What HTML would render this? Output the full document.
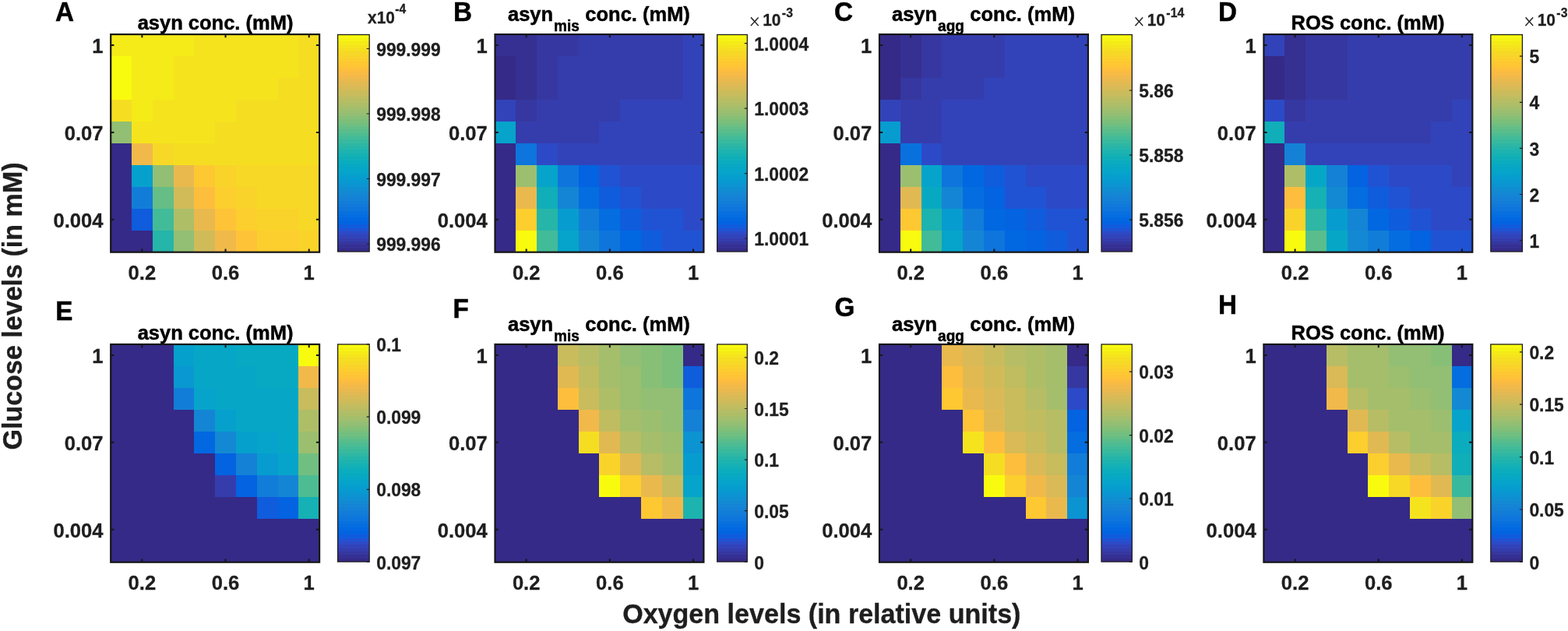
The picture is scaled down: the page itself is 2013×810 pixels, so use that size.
<!DOCTYPE html>
<html lang="en"><head><meta charset="utf-8"><title>Figure</title>
<style>html,body{margin:0;padding:0;background:#fff;overflow:hidden}svg{display:block}text{font-family:'Liberation Sans', Arial, Helvetica, sans-serif;font-weight:bold;fill:#1e1e1e;stroke:#1e1e1e}text.k{fill:#000;stroke:#000}</style>
</head><body>
<svg width="2013" height="810" viewBox="0 0 2013 810" role="img" aria-label="Heatmaps of asyn, misfolded asyn, aggregated asyn and ROS concentration versus oxygen and glucose levels">
<rect width="2013" height="810" fill="#ffffff"/>
<g>
<g shape-rendering="crispEdges">
<rect x="142" y="44" width="107" height="28" fill="#f5eb18"/>
<rect x="249" y="44" width="134" height="28" fill="#f5e41d"/>
<rect x="383" y="44" width="27" height="28" fill="#f5de21"/>
<rect x="142" y="72" width="27" height="28" fill="#f9fb0e"/>
<rect x="169" y="72" width="54" height="28" fill="#f5eb18"/>
<rect x="223" y="72" width="160" height="28" fill="#f5e41d"/>
<rect x="383" y="72" width="27" height="28" fill="#f5de21"/>
<rect x="142" y="100" width="27" height="28" fill="#f9fb0e"/>
<rect x="169" y="100" width="54" height="28" fill="#f5eb18"/>
<rect x="223" y="100" width="134" height="28" fill="#f5e41d"/>
<rect x="357" y="100" width="53" height="28" fill="#f5de21"/>
<rect x="142" y="128" width="27" height="28" fill="#f5de21"/>
<rect x="169" y="128" width="27" height="28" fill="#f5eb18"/>
<rect x="196" y="128" width="107" height="28" fill="#f5e41d"/>
<rect x="303" y="128" width="107" height="28" fill="#f5de21"/>
<rect x="142" y="156" width="27" height="28" fill="#92bf73"/>
<rect x="169" y="156" width="107" height="28" fill="#f5e41d"/>
<rect x="276" y="156" width="134" height="28" fill="#f5de21"/>
<rect x="142" y="184" width="27" height="28" fill="#352a87"/>
<rect x="169" y="184" width="27" height="28" fill="#f1b94a"/>
<rect x="196" y="184" width="27" height="28" fill="#f7d826"/>
<rect x="223" y="184" width="187" height="28" fill="#f5de21"/>
<rect x="142" y="212" width="27" height="28" fill="#352a87"/>
<rect x="169" y="212" width="27" height="28" fill="#06a0cd"/>
<rect x="196" y="212" width="27" height="28" fill="#92bf73"/>
<rect x="223" y="212" width="26" height="28" fill="#e9b94e"/>
<rect x="249" y="212" width="27" height="28" fill="#fec832"/>
<rect x="276" y="212" width="27" height="28" fill="#fad32a"/>
<rect x="303" y="212" width="107" height="28" fill="#f7d826"/>
<rect x="142" y="240" width="27" height="28" fill="#352a87"/>
<rect x="169" y="240" width="27" height="28" fill="#127dd8"/>
<rect x="196" y="240" width="27" height="28" fill="#65be86"/>
<rect x="223" y="240" width="26" height="28" fill="#d1bb59"/>
<rect x="249" y="240" width="27" height="28" fill="#fdbe3d"/>
<rect x="276" y="240" width="27" height="28" fill="#fcce2e"/>
<rect x="303" y="240" width="27" height="28" fill="#fad32a"/>
<rect x="330" y="240" width="80" height="28" fill="#f7d826"/>
<rect x="142" y="268" width="27" height="28" fill="#352a87"/>
<rect x="169" y="268" width="27" height="28" fill="#0f5cdd"/>
<rect x="196" y="268" width="27" height="28" fill="#42bb98"/>
<rect x="223" y="268" width="26" height="28" fill="#aebe67"/>
<rect x="249" y="268" width="27" height="28" fill="#e9b94e"/>
<rect x="276" y="268" width="27" height="28" fill="#ffc337"/>
<rect x="303" y="268" width="27" height="28" fill="#fcce2e"/>
<rect x="330" y="268" width="53" height="28" fill="#fad32a"/>
<rect x="383" y="268" width="27" height="28" fill="#f7d826"/>
<rect x="142" y="296" width="54" height="28" fill="#352a87"/>
<rect x="196" y="296" width="27" height="28" fill="#25b5a9"/>
<rect x="223" y="296" width="26" height="28" fill="#92bf73"/>
<rect x="249" y="296" width="27" height="28" fill="#d1bb59"/>
<rect x="276" y="296" width="27" height="28" fill="#f1b94a"/>
<rect x="303" y="296" width="27" height="28" fill="#ffc337"/>
<rect x="330" y="296" width="53" height="28" fill="#fcce2e"/>
<rect x="383" y="296" width="27" height="28" fill="#fad32a"/>
</g>
<path d="M182.38 323.7 v-4.2 M182.38 44.1 v4.2 M289.55 323.7 v-4.2 M289.55 44.1 v4.2 M396.71 323.7 v-4.2 M396.71 44.1 v4.2 M142.2 58.08 h4.2 M410.1 58.08 h-4.2 M142.2 169.92 h4.2 M410.1 169.92 h-4.2 M142.2 281.76 h4.2 M410.1 281.76 h-4.2" stroke="#161616" stroke-width="2" fill="none"/>
<rect x="142.2" y="44.1" width="267.9" height="279.6" fill="none" stroke="#161616" stroke-width="2.2"/>
<text transform="translate(182.38 359.1) scale(0.97 1)" font-size="26.4" stroke-width="0.3" text-anchor="middle">0.2</text>
<text transform="translate(289.55 359.1) scale(0.97 1)" font-size="26.4" stroke-width="0.3" text-anchor="middle">0.6</text>
<text transform="translate(396.71 359.1) scale(0.97 1)" font-size="26.4" stroke-width="0.3" text-anchor="middle">1</text>
<text transform="translate(132.5 68.38) scale(0.97 1)" font-size="26.4" stroke-width="0.3" text-anchor="end">1</text>
<text transform="translate(132.5 180.22) scale(0.97 1)" font-size="26.4" stroke-width="0.3" text-anchor="end">0.07</text>
<text transform="translate(132.5 292.06) scale(0.97 1)" font-size="26.4" stroke-width="0.3" text-anchor="end">0.004</text>
<text transform="translate(276.5 38.3) scale(0.97 1)" font-size="26.3" stroke-width="0.5" text-anchor="middle" class="k">asyn conc. (mM)</text>
<text transform="translate(71 27.2) scale(0.96 1)" font-size="34.6" stroke-width="0.5" class="k">A</text>
<g shape-rendering="crispEdges">
<rect x="433.6" y="319" width="40.6" height="4" fill="#352a87"/>
<rect x="433.6" y="314" width="40.6" height="5" fill="#363093"/>
<rect x="433.6" y="310" width="40.6" height="4" fill="#3637a0"/>
<rect x="433.6" y="306" width="40.6" height="4" fill="#353dad"/>
<rect x="433.6" y="301" width="40.6" height="5" fill="#3243ba"/>
<rect x="433.6" y="297" width="40.6" height="4" fill="#2c4ac7"/>
<rect x="433.6" y="293" width="40.6" height="4" fill="#2053d4"/>
<rect x="433.6" y="288" width="40.6" height="5" fill="#0f5cdd"/>
<rect x="433.6" y="284" width="40.6" height="4" fill="#0363e1"/>
<rect x="433.6" y="279" width="40.6" height="5" fill="#0268e1"/>
<rect x="433.6" y="275" width="40.6" height="4" fill="#046de0"/>
<rect x="433.6" y="271" width="40.6" height="4" fill="#0871de"/>
<rect x="433.6" y="266" width="40.6" height="5" fill="#0d75dc"/>
<rect x="433.6" y="262" width="40.6" height="4" fill="#1079da"/>
<rect x="433.6" y="258" width="40.6" height="4" fill="#127dd8"/>
<rect x="433.6" y="253" width="40.6" height="5" fill="#1481d6"/>
<rect x="433.6" y="249" width="40.6" height="4" fill="#1485d4"/>
<rect x="433.6" y="245" width="40.6" height="4" fill="#1389d3"/>
<rect x="433.6" y="240" width="40.6" height="5" fill="#108ed2"/>
<rect x="433.6" y="236" width="40.6" height="4" fill="#0c93d2"/>
<rect x="433.6" y="232" width="40.6" height="4" fill="#0998d1"/>
<rect x="433.6" y="227" width="40.6" height="5" fill="#079ccf"/>
<rect x="433.6" y="223" width="40.6" height="4" fill="#06a0cd"/>
<rect x="433.6" y="219" width="40.6" height="4" fill="#06a4ca"/>
<rect x="433.6" y="214" width="40.6" height="5" fill="#06a7c6"/>
<rect x="433.6" y="210" width="40.6" height="4" fill="#07a9c2"/>
<rect x="433.6" y="206" width="40.6" height="4" fill="#0aacbe"/>
<rect x="433.6" y="201" width="40.6" height="5" fill="#0faeb9"/>
<rect x="433.6" y="197" width="40.6" height="4" fill="#15b1b4"/>
<rect x="433.6" y="192" width="40.6" height="5" fill="#1db3af"/>
<rect x="433.6" y="188" width="40.6" height="4" fill="#25b5a9"/>
<rect x="433.6" y="184" width="40.6" height="4" fill="#2eb7a4"/>
<rect x="433.6" y="179" width="40.6" height="5" fill="#38b99e"/>
<rect x="433.6" y="175" width="40.6" height="4" fill="#42bb98"/>
<rect x="433.6" y="171" width="40.6" height="4" fill="#4dbc92"/>
<rect x="433.6" y="166" width="40.6" height="5" fill="#59bd8c"/>
<rect x="433.6" y="162" width="40.6" height="4" fill="#65be86"/>
<rect x="433.6" y="158" width="40.6" height="4" fill="#71bf80"/>
<rect x="433.6" y="153" width="40.6" height="5" fill="#7cbf7b"/>
<rect x="433.6" y="149" width="40.6" height="4" fill="#87bf77"/>
<rect x="433.6" y="145" width="40.6" height="4" fill="#92bf73"/>
<rect x="433.6" y="140" width="40.6" height="5" fill="#9cbf6f"/>
<rect x="433.6" y="136" width="40.6" height="4" fill="#a5be6b"/>
<rect x="433.6" y="132" width="40.6" height="4" fill="#aebe67"/>
<rect x="433.6" y="127" width="40.6" height="5" fill="#b7bd64"/>
<rect x="433.6" y="123" width="40.6" height="4" fill="#c0bc60"/>
<rect x="433.6" y="118" width="40.6" height="5" fill="#c8bc5d"/>
<rect x="433.6" y="114" width="40.6" height="4" fill="#d1bb59"/>
<rect x="433.6" y="110" width="40.6" height="4" fill="#d9ba56"/>
<rect x="433.6" y="105" width="40.6" height="5" fill="#e1b952"/>
<rect x="433.6" y="101" width="40.6" height="4" fill="#e9b94e"/>
<rect x="433.6" y="97" width="40.6" height="4" fill="#f1b94a"/>
<rect x="433.6" y="92" width="40.6" height="5" fill="#f8bb44"/>
<rect x="433.6" y="88" width="40.6" height="4" fill="#fdbe3d"/>
<rect x="433.6" y="84" width="40.6" height="4" fill="#ffc337"/>
<rect x="433.6" y="79" width="40.6" height="5" fill="#fec832"/>
<rect x="433.6" y="75" width="40.6" height="4" fill="#fcce2e"/>
<rect x="433.6" y="71" width="40.6" height="4" fill="#fad32a"/>
<rect x="433.6" y="66" width="40.6" height="5" fill="#f7d826"/>
<rect x="433.6" y="62" width="40.6" height="4" fill="#f5de21"/>
<rect x="433.6" y="58" width="40.6" height="4" fill="#f5e41d"/>
<rect x="433.6" y="53" width="40.6" height="5" fill="#f5eb18"/>
<rect x="433.6" y="49" width="40.6" height="4" fill="#f6f313"/>
<rect x="433.6" y="44" width="40.6" height="5" fill="#f9fb0e"/>
</g>
<text transform="translate(483.2 71.65) scale(0.967 1)" font-size="23.6" stroke-width="0.3">999.999</text>
<text transform="translate(483.2 155.15) scale(0.967 1)" font-size="23.6" stroke-width="0.3">999.998</text>
<text transform="translate(483.2 238.65) scale(0.967 1)" font-size="23.6" stroke-width="0.3">999.997</text>
<text transform="translate(483.2 322.15) scale(0.967 1)" font-size="23.6" stroke-width="0.3">999.996</text>
<path d="M474.2 62.5 h-3.5 M474.2 146 h-3.5 M474.2 229.5 h-3.5 M474.2 313 h-3.5" stroke="#1e1e1e" stroke-width="1.2" fill="none"/>
<rect x="433.6" y="44.5" width="40.6" height="278.5" fill="none" stroke="#1e1e1e" stroke-width="1.3"/>
<text transform="translate(472 30) scale(0.93 1)" font-size="22.5" stroke-width="0.3">x10<tspan dy="-13" dx="0.3" font-size="16.8">-4</tspan></text>
</g>
<g>
<g shape-rendering="crispEdges">
<rect x="636" y="44" width="53" height="28" fill="#363093"/>
<rect x="689" y="44" width="54" height="28" fill="#3637a0"/>
<rect x="743" y="44" width="134" height="28" fill="#353dad"/>
<rect x="877" y="44" width="26" height="28" fill="#3243ba"/>
<rect x="636" y="72" width="26" height="28" fill="#352a87"/>
<rect x="662" y="72" width="27" height="28" fill="#363093"/>
<rect x="689" y="72" width="27" height="28" fill="#3637a0"/>
<rect x="716" y="72" width="161" height="28" fill="#353dad"/>
<rect x="877" y="72" width="26" height="28" fill="#3243ba"/>
<rect x="636" y="100" width="26" height="28" fill="#352a87"/>
<rect x="662" y="100" width="27" height="28" fill="#363093"/>
<rect x="689" y="100" width="27" height="28" fill="#3637a0"/>
<rect x="716" y="100" width="161" height="28" fill="#353dad"/>
<rect x="877" y="100" width="26" height="28" fill="#3243ba"/>
<rect x="636" y="128" width="26" height="28" fill="#3243ba"/>
<rect x="662" y="128" width="27" height="28" fill="#3637a0"/>
<rect x="689" y="128" width="107" height="28" fill="#353dad"/>
<rect x="796" y="128" width="107" height="28" fill="#3243ba"/>
<rect x="636" y="156" width="26" height="28" fill="#06a4ca"/>
<rect x="662" y="156" width="107" height="28" fill="#353dad"/>
<rect x="769" y="156" width="134" height="28" fill="#3243ba"/>
<rect x="636" y="184" width="26" height="28" fill="#352a87"/>
<rect x="662" y="184" width="27" height="28" fill="#0d75dc"/>
<rect x="689" y="184" width="27" height="28" fill="#2c4ac7"/>
<rect x="716" y="184" width="187" height="28" fill="#3243ba"/>
<rect x="636" y="212" width="26" height="28" fill="#352a87"/>
<rect x="662" y="212" width="27" height="28" fill="#9cbf6f"/>
<rect x="689" y="212" width="27" height="28" fill="#06a4ca"/>
<rect x="716" y="212" width="27" height="28" fill="#0d75dc"/>
<rect x="743" y="212" width="26" height="28" fill="#0363e1"/>
<rect x="769" y="212" width="27" height="28" fill="#2053d4"/>
<rect x="796" y="212" width="107" height="28" fill="#2c4ac7"/>
<rect x="636" y="240" width="26" height="28" fill="#352a87"/>
<rect x="662" y="240" width="27" height="28" fill="#e9b94e"/>
<rect x="689" y="240" width="27" height="28" fill="#0faeb9"/>
<rect x="716" y="240" width="27" height="28" fill="#1485d4"/>
<rect x="743" y="240" width="26" height="28" fill="#046de0"/>
<rect x="769" y="240" width="27" height="28" fill="#0f5cdd"/>
<rect x="796" y="240" width="27" height="28" fill="#2053d4"/>
<rect x="823" y="240" width="80" height="28" fill="#2c4ac7"/>
<rect x="636" y="268" width="26" height="28" fill="#352a87"/>
<rect x="662" y="268" width="27" height="28" fill="#fcce2e"/>
<rect x="689" y="268" width="27" height="28" fill="#25b5a9"/>
<rect x="716" y="268" width="27" height="28" fill="#079ccf"/>
<rect x="743" y="268" width="26" height="28" fill="#127dd8"/>
<rect x="769" y="268" width="27" height="28" fill="#046de0"/>
<rect x="796" y="268" width="27" height="28" fill="#0f5cdd"/>
<rect x="823" y="268" width="54" height="28" fill="#2053d4"/>
<rect x="877" y="268" width="26" height="28" fill="#2c4ac7"/>
<rect x="636" y="296" width="26" height="28" fill="#352a87"/>
<rect x="662" y="296" width="27" height="28" fill="#f9fb0e"/>
<rect x="689" y="296" width="27" height="28" fill="#42bb98"/>
<rect x="716" y="296" width="27" height="28" fill="#06a4ca"/>
<rect x="743" y="296" width="26" height="28" fill="#1485d4"/>
<rect x="769" y="296" width="27" height="28" fill="#0d75dc"/>
<rect x="796" y="296" width="27" height="28" fill="#0268e1"/>
<rect x="823" y="296" width="27" height="28" fill="#0f5cdd"/>
<rect x="850" y="296" width="53" height="28" fill="#2053d4"/>
</g>
<path d="M675.68 323.7 v-4.2 M675.68 44.1 v4.2 M782.85 323.7 v-4.2 M782.85 44.1 v4.2 M890 323.7 v-4.2 M890 44.1 v4.2 M635.5 58.08 h4.2 M903.4 58.08 h-4.2 M635.5 169.92 h4.2 M903.4 169.92 h-4.2 M635.5 281.76 h4.2 M903.4 281.76 h-4.2" stroke="#161616" stroke-width="2" fill="none"/>
<rect x="635.5" y="44.1" width="267.9" height="279.6" fill="none" stroke="#161616" stroke-width="2.2"/>
<text transform="translate(675.68 359.1) scale(0.97 1)" font-size="26.4" stroke-width="0.3" text-anchor="middle">0.2</text>
<text transform="translate(782.85 359.1) scale(0.97 1)" font-size="26.4" stroke-width="0.3" text-anchor="middle">0.6</text>
<text transform="translate(890 359.1) scale(0.97 1)" font-size="26.4" stroke-width="0.3" text-anchor="middle">1</text>
<text transform="translate(625.8 68.38) scale(0.97 1)" font-size="26.4" stroke-width="0.3" text-anchor="end">1</text>
<text transform="translate(625.8 180.22) scale(0.97 1)" font-size="26.4" stroke-width="0.3" text-anchor="end">0.07</text>
<text transform="translate(625.8 292.06) scale(0.97 1)" font-size="26.4" stroke-width="0.3" text-anchor="end">0.004</text>
<text transform="translate(652 26.5) scale(0.97 1)" font-size="26.3" stroke-width="0.5" class="k">asyn<tspan dy="13" dx="1" font-size="19.6">mis</tspan><tspan dy="-13" dx="0.4"> conc. (mM)</tspan></text>
<text transform="translate(582 27.2) scale(0.96 1)" font-size="34.6" stroke-width="0.5" class="k">B</text>
<g shape-rendering="crispEdges">
<rect x="920.7" y="319" width="38.6" height="4" fill="#352a87"/>
<rect x="920.7" y="314" width="38.6" height="5" fill="#363093"/>
<rect x="920.7" y="310" width="38.6" height="4" fill="#3637a0"/>
<rect x="920.7" y="306" width="38.6" height="4" fill="#353dad"/>
<rect x="920.7" y="301" width="38.6" height="5" fill="#3243ba"/>
<rect x="920.7" y="297" width="38.6" height="4" fill="#2c4ac7"/>
<rect x="920.7" y="293" width="38.6" height="4" fill="#2053d4"/>
<rect x="920.7" y="288" width="38.6" height="5" fill="#0f5cdd"/>
<rect x="920.7" y="284" width="38.6" height="4" fill="#0363e1"/>
<rect x="920.7" y="279" width="38.6" height="5" fill="#0268e1"/>
<rect x="920.7" y="275" width="38.6" height="4" fill="#046de0"/>
<rect x="920.7" y="271" width="38.6" height="4" fill="#0871de"/>
<rect x="920.7" y="266" width="38.6" height="5" fill="#0d75dc"/>
<rect x="920.7" y="262" width="38.6" height="4" fill="#1079da"/>
<rect x="920.7" y="258" width="38.6" height="4" fill="#127dd8"/>
<rect x="920.7" y="253" width="38.6" height="5" fill="#1481d6"/>
<rect x="920.7" y="249" width="38.6" height="4" fill="#1485d4"/>
<rect x="920.7" y="245" width="38.6" height="4" fill="#1389d3"/>
<rect x="920.7" y="240" width="38.6" height="5" fill="#108ed2"/>
<rect x="920.7" y="236" width="38.6" height="4" fill="#0c93d2"/>
<rect x="920.7" y="232" width="38.6" height="4" fill="#0998d1"/>
<rect x="920.7" y="227" width="38.6" height="5" fill="#079ccf"/>
<rect x="920.7" y="223" width="38.6" height="4" fill="#06a0cd"/>
<rect x="920.7" y="219" width="38.6" height="4" fill="#06a4ca"/>
<rect x="920.7" y="214" width="38.6" height="5" fill="#06a7c6"/>
<rect x="920.7" y="210" width="38.6" height="4" fill="#07a9c2"/>
<rect x="920.7" y="206" width="38.6" height="4" fill="#0aacbe"/>
<rect x="920.7" y="201" width="38.6" height="5" fill="#0faeb9"/>
<rect x="920.7" y="197" width="38.6" height="4" fill="#15b1b4"/>
<rect x="920.7" y="192" width="38.6" height="5" fill="#1db3af"/>
<rect x="920.7" y="188" width="38.6" height="4" fill="#25b5a9"/>
<rect x="920.7" y="184" width="38.6" height="4" fill="#2eb7a4"/>
<rect x="920.7" y="179" width="38.6" height="5" fill="#38b99e"/>
<rect x="920.7" y="175" width="38.6" height="4" fill="#42bb98"/>
<rect x="920.7" y="171" width="38.6" height="4" fill="#4dbc92"/>
<rect x="920.7" y="166" width="38.6" height="5" fill="#59bd8c"/>
<rect x="920.7" y="162" width="38.6" height="4" fill="#65be86"/>
<rect x="920.7" y="158" width="38.6" height="4" fill="#71bf80"/>
<rect x="920.7" y="153" width="38.6" height="5" fill="#7cbf7b"/>
<rect x="920.7" y="149" width="38.6" height="4" fill="#87bf77"/>
<rect x="920.7" y="145" width="38.6" height="4" fill="#92bf73"/>
<rect x="920.7" y="140" width="38.6" height="5" fill="#9cbf6f"/>
<rect x="920.7" y="136" width="38.6" height="4" fill="#a5be6b"/>
<rect x="920.7" y="132" width="38.6" height="4" fill="#aebe67"/>
<rect x="920.7" y="127" width="38.6" height="5" fill="#b7bd64"/>
<rect x="920.7" y="123" width="38.6" height="4" fill="#c0bc60"/>
<rect x="920.7" y="118" width="38.6" height="5" fill="#c8bc5d"/>
<rect x="920.7" y="114" width="38.6" height="4" fill="#d1bb59"/>
<rect x="920.7" y="110" width="38.6" height="4" fill="#d9ba56"/>
<rect x="920.7" y="105" width="38.6" height="5" fill="#e1b952"/>
<rect x="920.7" y="101" width="38.6" height="4" fill="#e9b94e"/>
<rect x="920.7" y="97" width="38.6" height="4" fill="#f1b94a"/>
<rect x="920.7" y="92" width="38.6" height="5" fill="#f8bb44"/>
<rect x="920.7" y="88" width="38.6" height="4" fill="#fdbe3d"/>
<rect x="920.7" y="84" width="38.6" height="4" fill="#ffc337"/>
<rect x="920.7" y="79" width="38.6" height="5" fill="#fec832"/>
<rect x="920.7" y="75" width="38.6" height="4" fill="#fcce2e"/>
<rect x="920.7" y="71" width="38.6" height="4" fill="#fad32a"/>
<rect x="920.7" y="66" width="38.6" height="5" fill="#f7d826"/>
<rect x="920.7" y="62" width="38.6" height="4" fill="#f5de21"/>
<rect x="920.7" y="58" width="38.6" height="4" fill="#f5e41d"/>
<rect x="920.7" y="53" width="38.6" height="5" fill="#f5eb18"/>
<rect x="920.7" y="49" width="38.6" height="4" fill="#f6f313"/>
<rect x="920.7" y="44" width="38.6" height="5" fill="#f9fb0e"/>
</g>
<text transform="translate(968.3 64.85) scale(0.967 1)" font-size="23.6" stroke-width="0.3">1.0004</text>
<text transform="translate(968.3 148.25) scale(0.967 1)" font-size="23.6" stroke-width="0.3">1.0003</text>
<text transform="translate(968.3 231.75) scale(0.967 1)" font-size="23.6" stroke-width="0.3">1.0002</text>
<text transform="translate(968.3 315.15) scale(0.967 1)" font-size="23.6" stroke-width="0.3">1.0001</text>
<path d="M959.3 55.7 h-3.5 M959.3 139.1 h-3.5 M959.3 222.6 h-3.5 M959.3 306 h-3.5" stroke="#1e1e1e" stroke-width="1.2" fill="none"/>
<rect x="920.7" y="44.5" width="38.6" height="278.5" fill="none" stroke="#1e1e1e" stroke-width="1.3"/>
<text transform="translate(961 32.8) scale(0.93 1)" font-size="22.5" stroke-width="0.3"><tspan font-weight="normal" font-size="27" stroke="#fff" stroke-width="0.35" dx="0.5" dy="3.8">×</tspan><tspan dx="3.3" dy="-3.8">10</tspan><tspan dy="-10.4" dx="1.5" font-size="17">-3</tspan></text>
</g>
<g>
<g shape-rendering="crispEdges">
<rect x="1129" y="44" width="27" height="28" fill="#352a87"/>
<rect x="1156" y="44" width="27" height="28" fill="#363093"/>
<rect x="1183" y="44" width="26" height="28" fill="#3637a0"/>
<rect x="1209" y="44" width="81" height="28" fill="#353dad"/>
<rect x="1290" y="44" width="107" height="28" fill="#3243ba"/>
<rect x="1129" y="72" width="27" height="28" fill="#352a87"/>
<rect x="1156" y="72" width="27" height="28" fill="#363093"/>
<rect x="1183" y="72" width="26" height="28" fill="#3637a0"/>
<rect x="1209" y="72" width="81" height="28" fill="#353dad"/>
<rect x="1290" y="72" width="107" height="28" fill="#3243ba"/>
<rect x="1129" y="100" width="27" height="28" fill="#352a87"/>
<rect x="1156" y="100" width="27" height="28" fill="#3637a0"/>
<rect x="1183" y="100" width="80" height="28" fill="#353dad"/>
<rect x="1263" y="100" width="134" height="28" fill="#3243ba"/>
<rect x="1129" y="128" width="27" height="28" fill="#3243ba"/>
<rect x="1156" y="128" width="53" height="28" fill="#353dad"/>
<rect x="1209" y="128" width="188" height="28" fill="#3243ba"/>
<rect x="1129" y="156" width="27" height="28" fill="#079ccf"/>
<rect x="1156" y="156" width="53" height="28" fill="#353dad"/>
<rect x="1209" y="156" width="188" height="28" fill="#3243ba"/>
<rect x="1129" y="184" width="27" height="28" fill="#352a87"/>
<rect x="1156" y="184" width="27" height="28" fill="#0871de"/>
<rect x="1183" y="184" width="26" height="28" fill="#2c4ac7"/>
<rect x="1209" y="184" width="188" height="28" fill="#3243ba"/>
<rect x="1129" y="212" width="27" height="28" fill="#352a87"/>
<rect x="1156" y="212" width="27" height="28" fill="#9cbf6f"/>
<rect x="1183" y="212" width="26" height="28" fill="#06a4ca"/>
<rect x="1209" y="212" width="27" height="28" fill="#0d75dc"/>
<rect x="1236" y="212" width="27" height="28" fill="#0268e1"/>
<rect x="1263" y="212" width="27" height="28" fill="#0f5cdd"/>
<rect x="1290" y="212" width="27" height="28" fill="#2053d4"/>
<rect x="1317" y="212" width="80" height="28" fill="#2c4ac7"/>
<rect x="1129" y="240" width="27" height="28" fill="#352a87"/>
<rect x="1156" y="240" width="27" height="28" fill="#e1b952"/>
<rect x="1183" y="240" width="26" height="28" fill="#07a9c2"/>
<rect x="1209" y="240" width="27" height="28" fill="#1485d4"/>
<rect x="1236" y="240" width="27" height="28" fill="#046de0"/>
<rect x="1263" y="240" width="27" height="28" fill="#0363e1"/>
<rect x="1290" y="240" width="53" height="28" fill="#2053d4"/>
<rect x="1343" y="240" width="54" height="28" fill="#2c4ac7"/>
<rect x="1129" y="268" width="27" height="28" fill="#352a87"/>
<rect x="1156" y="268" width="27" height="28" fill="#fec832"/>
<rect x="1183" y="268" width="26" height="28" fill="#1db3af"/>
<rect x="1209" y="268" width="27" height="28" fill="#079ccf"/>
<rect x="1236" y="268" width="27" height="28" fill="#127dd8"/>
<rect x="1263" y="268" width="27" height="28" fill="#0268e1"/>
<rect x="1290" y="268" width="27" height="28" fill="#0363e1"/>
<rect x="1317" y="268" width="26" height="28" fill="#0f5cdd"/>
<rect x="1343" y="268" width="54" height="28" fill="#2053d4"/>
<rect x="1129" y="296" width="27" height="28" fill="#352a87"/>
<rect x="1156" y="296" width="27" height="28" fill="#f9fb0e"/>
<rect x="1183" y="296" width="26" height="28" fill="#42bb98"/>
<rect x="1209" y="296" width="27" height="28" fill="#06a4ca"/>
<rect x="1236" y="296" width="27" height="28" fill="#1485d4"/>
<rect x="1263" y="296" width="27" height="28" fill="#0d75dc"/>
<rect x="1290" y="296" width="27" height="28" fill="#0268e1"/>
<rect x="1317" y="296" width="26" height="28" fill="#0363e1"/>
<rect x="1343" y="296" width="27" height="28" fill="#0f5cdd"/>
<rect x="1370" y="296" width="27" height="28" fill="#2053d4"/>
</g>
<path d="M1169.18 323.7 v-4.2 M1169.18 44.1 v4.2 M1276.35 323.7 v-4.2 M1276.35 44.1 v4.2 M1383.51 323.7 v-4.2 M1383.51 44.1 v4.2 M1129 58.08 h4.2 M1396.9 58.08 h-4.2 M1129 169.92 h4.2 M1396.9 169.92 h-4.2 M1129 281.76 h4.2 M1396.9 281.76 h-4.2" stroke="#161616" stroke-width="2" fill="none"/>
<rect x="1129" y="44.1" width="267.9" height="279.6" fill="none" stroke="#161616" stroke-width="2.2"/>
<text transform="translate(1169.18 359.1) scale(0.97 1)" font-size="26.4" stroke-width="0.3" text-anchor="middle">0.2</text>
<text transform="translate(1276.35 359.1) scale(0.97 1)" font-size="26.4" stroke-width="0.3" text-anchor="middle">0.6</text>
<text transform="translate(1383.51 359.1) scale(0.97 1)" font-size="26.4" stroke-width="0.3" text-anchor="middle">1</text>
<text transform="translate(1119.3 68.38) scale(0.97 1)" font-size="26.4" stroke-width="0.3" text-anchor="end">1</text>
<text transform="translate(1119.3 180.22) scale(0.97 1)" font-size="26.4" stroke-width="0.3" text-anchor="end">0.07</text>
<text transform="translate(1119.3 292.06) scale(0.97 1)" font-size="26.4" stroke-width="0.3" text-anchor="end">0.004</text>
<text transform="translate(1145 26.5) scale(0.97 1)" font-size="26.3" stroke-width="0.5" class="k">asyn<tspan dy="13" dx="1" font-size="19.6">agg</tspan><tspan dy="-13" dx="0.4"> conc. (mM)</tspan></text>
<text transform="translate(1071 27.2) scale(0.96 1)" font-size="34.6" stroke-width="0.5" class="k">C</text>
<g shape-rendering="crispEdges">
<rect x="1414" y="319" width="39.3" height="4" fill="#352a87"/>
<rect x="1414" y="314" width="39.3" height="5" fill="#363093"/>
<rect x="1414" y="310" width="39.3" height="4" fill="#3637a0"/>
<rect x="1414" y="306" width="39.3" height="4" fill="#353dad"/>
<rect x="1414" y="301" width="39.3" height="5" fill="#3243ba"/>
<rect x="1414" y="297" width="39.3" height="4" fill="#2c4ac7"/>
<rect x="1414" y="293" width="39.3" height="4" fill="#2053d4"/>
<rect x="1414" y="288" width="39.3" height="5" fill="#0f5cdd"/>
<rect x="1414" y="284" width="39.3" height="4" fill="#0363e1"/>
<rect x="1414" y="279" width="39.3" height="5" fill="#0268e1"/>
<rect x="1414" y="275" width="39.3" height="4" fill="#046de0"/>
<rect x="1414" y="271" width="39.3" height="4" fill="#0871de"/>
<rect x="1414" y="266" width="39.3" height="5" fill="#0d75dc"/>
<rect x="1414" y="262" width="39.3" height="4" fill="#1079da"/>
<rect x="1414" y="258" width="39.3" height="4" fill="#127dd8"/>
<rect x="1414" y="253" width="39.3" height="5" fill="#1481d6"/>
<rect x="1414" y="249" width="39.3" height="4" fill="#1485d4"/>
<rect x="1414" y="245" width="39.3" height="4" fill="#1389d3"/>
<rect x="1414" y="240" width="39.3" height="5" fill="#108ed2"/>
<rect x="1414" y="236" width="39.3" height="4" fill="#0c93d2"/>
<rect x="1414" y="232" width="39.3" height="4" fill="#0998d1"/>
<rect x="1414" y="227" width="39.3" height="5" fill="#079ccf"/>
<rect x="1414" y="223" width="39.3" height="4" fill="#06a0cd"/>
<rect x="1414" y="219" width="39.3" height="4" fill="#06a4ca"/>
<rect x="1414" y="214" width="39.3" height="5" fill="#06a7c6"/>
<rect x="1414" y="210" width="39.3" height="4" fill="#07a9c2"/>
<rect x="1414" y="206" width="39.3" height="4" fill="#0aacbe"/>
<rect x="1414" y="201" width="39.3" height="5" fill="#0faeb9"/>
<rect x="1414" y="197" width="39.3" height="4" fill="#15b1b4"/>
<rect x="1414" y="192" width="39.3" height="5" fill="#1db3af"/>
<rect x="1414" y="188" width="39.3" height="4" fill="#25b5a9"/>
<rect x="1414" y="184" width="39.3" height="4" fill="#2eb7a4"/>
<rect x="1414" y="179" width="39.3" height="5" fill="#38b99e"/>
<rect x="1414" y="175" width="39.3" height="4" fill="#42bb98"/>
<rect x="1414" y="171" width="39.3" height="4" fill="#4dbc92"/>
<rect x="1414" y="166" width="39.3" height="5" fill="#59bd8c"/>
<rect x="1414" y="162" width="39.3" height="4" fill="#65be86"/>
<rect x="1414" y="158" width="39.3" height="4" fill="#71bf80"/>
<rect x="1414" y="153" width="39.3" height="5" fill="#7cbf7b"/>
<rect x="1414" y="149" width="39.3" height="4" fill="#87bf77"/>
<rect x="1414" y="145" width="39.3" height="4" fill="#92bf73"/>
<rect x="1414" y="140" width="39.3" height="5" fill="#9cbf6f"/>
<rect x="1414" y="136" width="39.3" height="4" fill="#a5be6b"/>
<rect x="1414" y="132" width="39.3" height="4" fill="#aebe67"/>
<rect x="1414" y="127" width="39.3" height="5" fill="#b7bd64"/>
<rect x="1414" y="123" width="39.3" height="4" fill="#c0bc60"/>
<rect x="1414" y="118" width="39.3" height="5" fill="#c8bc5d"/>
<rect x="1414" y="114" width="39.3" height="4" fill="#d1bb59"/>
<rect x="1414" y="110" width="39.3" height="4" fill="#d9ba56"/>
<rect x="1414" y="105" width="39.3" height="5" fill="#e1b952"/>
<rect x="1414" y="101" width="39.3" height="4" fill="#e9b94e"/>
<rect x="1414" y="97" width="39.3" height="4" fill="#f1b94a"/>
<rect x="1414" y="92" width="39.3" height="5" fill="#f8bb44"/>
<rect x="1414" y="88" width="39.3" height="4" fill="#fdbe3d"/>
<rect x="1414" y="84" width="39.3" height="4" fill="#ffc337"/>
<rect x="1414" y="79" width="39.3" height="5" fill="#fec832"/>
<rect x="1414" y="75" width="39.3" height="4" fill="#fcce2e"/>
<rect x="1414" y="71" width="39.3" height="4" fill="#fad32a"/>
<rect x="1414" y="66" width="39.3" height="5" fill="#f7d826"/>
<rect x="1414" y="62" width="39.3" height="4" fill="#f5de21"/>
<rect x="1414" y="58" width="39.3" height="4" fill="#f5e41d"/>
<rect x="1414" y="53" width="39.3" height="5" fill="#f5eb18"/>
<rect x="1414" y="49" width="39.3" height="4" fill="#f6f313"/>
<rect x="1414" y="44" width="39.3" height="5" fill="#f9fb0e"/>
</g>
<text transform="translate(1462.3 125.15) scale(0.967 1)" font-size="23.6" stroke-width="0.3">5.86</text>
<text transform="translate(1462.3 208.25) scale(0.967 1)" font-size="23.6" stroke-width="0.3">5.858</text>
<text transform="translate(1462.3 291.35) scale(0.967 1)" font-size="23.6" stroke-width="0.3">5.856</text>
<path d="M1453.3 116 h-3.5 M1453.3 199.1 h-3.5 M1453.3 282.2 h-3.5" stroke="#1e1e1e" stroke-width="1.2" fill="none"/>
<rect x="1414" y="44.5" width="39.3" height="278.5" fill="none" stroke="#1e1e1e" stroke-width="1.3"/>
<text transform="translate(1454.5 32.8) scale(0.93 1)" font-size="22.5" stroke-width="0.3"><tspan font-weight="normal" font-size="27" stroke="#fff" stroke-width="0.35" dx="0.5" dy="3.8">×</tspan><tspan dx="3.3" dy="-3.8">10</tspan><tspan dy="-10.4" dx="1.5" font-size="17">-14</tspan></text>
</g>
<g>
<g shape-rendering="crispEdges">
<rect x="1622" y="44" width="27" height="28" fill="#3243ba"/>
<rect x="1649" y="44" width="27" height="28" fill="#363093"/>
<rect x="1676" y="44" width="54" height="28" fill="#3637a0"/>
<rect x="1730" y="44" width="160" height="28" fill="#353dad"/>
<rect x="1622" y="72" width="27" height="28" fill="#352a87"/>
<rect x="1649" y="72" width="27" height="28" fill="#363093"/>
<rect x="1676" y="72" width="54" height="28" fill="#3637a0"/>
<rect x="1730" y="72" width="160" height="28" fill="#353dad"/>
<rect x="1622" y="100" width="27" height="28" fill="#352a87"/>
<rect x="1649" y="100" width="27" height="28" fill="#363093"/>
<rect x="1676" y="100" width="54" height="28" fill="#3637a0"/>
<rect x="1730" y="100" width="160" height="28" fill="#353dad"/>
<rect x="1622" y="128" width="27" height="28" fill="#2c4ac7"/>
<rect x="1649" y="128" width="27" height="28" fill="#3637a0"/>
<rect x="1676" y="128" width="188" height="28" fill="#353dad"/>
<rect x="1864" y="128" width="26" height="28" fill="#3243ba"/>
<rect x="1622" y="156" width="27" height="28" fill="#0faeb9"/>
<rect x="1649" y="156" width="188" height="28" fill="#353dad"/>
<rect x="1837" y="156" width="53" height="28" fill="#3243ba"/>
<rect x="1622" y="184" width="27" height="28" fill="#352a87"/>
<rect x="1649" y="184" width="27" height="28" fill="#1481d6"/>
<rect x="1676" y="184" width="214" height="28" fill="#3243ba"/>
<rect x="1622" y="212" width="27" height="28" fill="#352a87"/>
<rect x="1649" y="212" width="27" height="28" fill="#aebe67"/>
<rect x="1676" y="212" width="27" height="28" fill="#06a7c6"/>
<rect x="1703" y="212" width="27" height="28" fill="#1481d6"/>
<rect x="1730" y="212" width="26" height="28" fill="#0363e1"/>
<rect x="1756" y="212" width="27" height="28" fill="#2053d4"/>
<rect x="1783" y="212" width="81" height="28" fill="#2c4ac7"/>
<rect x="1864" y="212" width="26" height="28" fill="#3243ba"/>
<rect x="1622" y="240" width="27" height="28" fill="#352a87"/>
<rect x="1649" y="240" width="27" height="28" fill="#fdbe3d"/>
<rect x="1676" y="240" width="27" height="28" fill="#15b1b4"/>
<rect x="1703" y="240" width="27" height="28" fill="#1389d3"/>
<rect x="1730" y="240" width="26" height="28" fill="#046de0"/>
<rect x="1756" y="240" width="27" height="28" fill="#0f5cdd"/>
<rect x="1783" y="240" width="27" height="28" fill="#2053d4"/>
<rect x="1810" y="240" width="80" height="28" fill="#2c4ac7"/>
<rect x="1622" y="268" width="27" height="28" fill="#352a87"/>
<rect x="1649" y="268" width="27" height="28" fill="#fad32a"/>
<rect x="1676" y="268" width="27" height="28" fill="#2eb7a4"/>
<rect x="1703" y="268" width="27" height="28" fill="#079ccf"/>
<rect x="1730" y="268" width="26" height="28" fill="#1485d4"/>
<rect x="1756" y="268" width="27" height="28" fill="#0268e1"/>
<rect x="1783" y="268" width="27" height="28" fill="#0f5cdd"/>
<rect x="1810" y="268" width="27" height="28" fill="#2053d4"/>
<rect x="1837" y="268" width="53" height="28" fill="#2c4ac7"/>
<rect x="1622" y="296" width="27" height="28" fill="#352a87"/>
<rect x="1649" y="296" width="27" height="28" fill="#f9fb0e"/>
<rect x="1676" y="296" width="27" height="28" fill="#59bd8c"/>
<rect x="1703" y="296" width="27" height="28" fill="#06a7c6"/>
<rect x="1730" y="296" width="26" height="28" fill="#1389d3"/>
<rect x="1756" y="296" width="27" height="28" fill="#127dd8"/>
<rect x="1783" y="296" width="27" height="28" fill="#046de0"/>
<rect x="1810" y="296" width="27" height="28" fill="#0363e1"/>
<rect x="1837" y="296" width="53" height="28" fill="#2053d4"/>
</g>
<path d="M1662.59 323.7 v-4.2 M1662.59 44.1 v4.2 M1769.74 323.7 v-4.2 M1769.74 44.1 v4.2 M1876.9 323.7 v-4.2 M1876.9 44.1 v4.2 M1622.4 58.08 h4.2 M1890.3 58.08 h-4.2 M1622.4 169.92 h4.2 M1890.3 169.92 h-4.2 M1622.4 281.76 h4.2 M1890.3 281.76 h-4.2" stroke="#161616" stroke-width="2" fill="none"/>
<rect x="1622.4" y="44.1" width="267.9" height="279.6" fill="none" stroke="#161616" stroke-width="2.2"/>
<text transform="translate(1662.59 359.1) scale(0.97 1)" font-size="26.4" stroke-width="0.3" text-anchor="middle">0.2</text>
<text transform="translate(1769.74 359.1) scale(0.97 1)" font-size="26.4" stroke-width="0.3" text-anchor="middle">0.6</text>
<text transform="translate(1876.9 359.1) scale(0.97 1)" font-size="26.4" stroke-width="0.3" text-anchor="middle">1</text>
<text transform="translate(1612.7 68.38) scale(0.97 1)" font-size="26.4" stroke-width="0.3" text-anchor="end">1</text>
<text transform="translate(1612.7 180.22) scale(0.97 1)" font-size="26.4" stroke-width="0.3" text-anchor="end">0.07</text>
<text transform="translate(1612.7 292.06) scale(0.97 1)" font-size="26.4" stroke-width="0.3" text-anchor="end">0.004</text>
<text transform="translate(1756 38.3) scale(0.97 1)" font-size="26.3" stroke-width="0.5" text-anchor="middle" class="k">ROS conc. (mM)</text>
<text transform="translate(1564 27.2) scale(0.96 1)" font-size="34.6" stroke-width="0.5" class="k">D</text>
<g shape-rendering="crispEdges">
<rect x="1913.8" y="319" width="40.6" height="4" fill="#352a87"/>
<rect x="1913.8" y="314" width="40.6" height="5" fill="#363093"/>
<rect x="1913.8" y="310" width="40.6" height="4" fill="#3637a0"/>
<rect x="1913.8" y="306" width="40.6" height="4" fill="#353dad"/>
<rect x="1913.8" y="301" width="40.6" height="5" fill="#3243ba"/>
<rect x="1913.8" y="297" width="40.6" height="4" fill="#2c4ac7"/>
<rect x="1913.8" y="293" width="40.6" height="4" fill="#2053d4"/>
<rect x="1913.8" y="288" width="40.6" height="5" fill="#0f5cdd"/>
<rect x="1913.8" y="284" width="40.6" height="4" fill="#0363e1"/>
<rect x="1913.8" y="279" width="40.6" height="5" fill="#0268e1"/>
<rect x="1913.8" y="275" width="40.6" height="4" fill="#046de0"/>
<rect x="1913.8" y="271" width="40.6" height="4" fill="#0871de"/>
<rect x="1913.8" y="266" width="40.6" height="5" fill="#0d75dc"/>
<rect x="1913.8" y="262" width="40.6" height="4" fill="#1079da"/>
<rect x="1913.8" y="258" width="40.6" height="4" fill="#127dd8"/>
<rect x="1913.8" y="253" width="40.6" height="5" fill="#1481d6"/>
<rect x="1913.8" y="249" width="40.6" height="4" fill="#1485d4"/>
<rect x="1913.8" y="245" width="40.6" height="4" fill="#1389d3"/>
<rect x="1913.8" y="240" width="40.6" height="5" fill="#108ed2"/>
<rect x="1913.8" y="236" width="40.6" height="4" fill="#0c93d2"/>
<rect x="1913.8" y="232" width="40.6" height="4" fill="#0998d1"/>
<rect x="1913.8" y="227" width="40.6" height="5" fill="#079ccf"/>
<rect x="1913.8" y="223" width="40.6" height="4" fill="#06a0cd"/>
<rect x="1913.8" y="219" width="40.6" height="4" fill="#06a4ca"/>
<rect x="1913.8" y="214" width="40.6" height="5" fill="#06a7c6"/>
<rect x="1913.8" y="210" width="40.6" height="4" fill="#07a9c2"/>
<rect x="1913.8" y="206" width="40.6" height="4" fill="#0aacbe"/>
<rect x="1913.8" y="201" width="40.6" height="5" fill="#0faeb9"/>
<rect x="1913.8" y="197" width="40.6" height="4" fill="#15b1b4"/>
<rect x="1913.8" y="192" width="40.6" height="5" fill="#1db3af"/>
<rect x="1913.8" y="188" width="40.6" height="4" fill="#25b5a9"/>
<rect x="1913.8" y="184" width="40.6" height="4" fill="#2eb7a4"/>
<rect x="1913.8" y="179" width="40.6" height="5" fill="#38b99e"/>
<rect x="1913.8" y="175" width="40.6" height="4" fill="#42bb98"/>
<rect x="1913.8" y="171" width="40.6" height="4" fill="#4dbc92"/>
<rect x="1913.8" y="166" width="40.6" height="5" fill="#59bd8c"/>
<rect x="1913.8" y="162" width="40.6" height="4" fill="#65be86"/>
<rect x="1913.8" y="158" width="40.6" height="4" fill="#71bf80"/>
<rect x="1913.8" y="153" width="40.6" height="5" fill="#7cbf7b"/>
<rect x="1913.8" y="149" width="40.6" height="4" fill="#87bf77"/>
<rect x="1913.8" y="145" width="40.6" height="4" fill="#92bf73"/>
<rect x="1913.8" y="140" width="40.6" height="5" fill="#9cbf6f"/>
<rect x="1913.8" y="136" width="40.6" height="4" fill="#a5be6b"/>
<rect x="1913.8" y="132" width="40.6" height="4" fill="#aebe67"/>
<rect x="1913.8" y="127" width="40.6" height="5" fill="#b7bd64"/>
<rect x="1913.8" y="123" width="40.6" height="4" fill="#c0bc60"/>
<rect x="1913.8" y="118" width="40.6" height="5" fill="#c8bc5d"/>
<rect x="1913.8" y="114" width="40.6" height="4" fill="#d1bb59"/>
<rect x="1913.8" y="110" width="40.6" height="4" fill="#d9ba56"/>
<rect x="1913.8" y="105" width="40.6" height="5" fill="#e1b952"/>
<rect x="1913.8" y="101" width="40.6" height="4" fill="#e9b94e"/>
<rect x="1913.8" y="97" width="40.6" height="4" fill="#f1b94a"/>
<rect x="1913.8" y="92" width="40.6" height="5" fill="#f8bb44"/>
<rect x="1913.8" y="88" width="40.6" height="4" fill="#fdbe3d"/>
<rect x="1913.8" y="84" width="40.6" height="4" fill="#ffc337"/>
<rect x="1913.8" y="79" width="40.6" height="5" fill="#fec832"/>
<rect x="1913.8" y="75" width="40.6" height="4" fill="#fcce2e"/>
<rect x="1913.8" y="71" width="40.6" height="4" fill="#fad32a"/>
<rect x="1913.8" y="66" width="40.6" height="5" fill="#f7d826"/>
<rect x="1913.8" y="62" width="40.6" height="4" fill="#f5de21"/>
<rect x="1913.8" y="58" width="40.6" height="4" fill="#f5e41d"/>
<rect x="1913.8" y="53" width="40.6" height="5" fill="#f5eb18"/>
<rect x="1913.8" y="49" width="40.6" height="4" fill="#f6f313"/>
<rect x="1913.8" y="44" width="40.6" height="5" fill="#f9fb0e"/>
</g>
<text transform="translate(1963.4 81.35) scale(0.967 1)" font-size="23.6" stroke-width="0.3">5</text>
<text transform="translate(1963.4 140.45) scale(0.967 1)" font-size="23.6" stroke-width="0.3">4</text>
<text transform="translate(1963.4 199.55) scale(0.967 1)" font-size="23.6" stroke-width="0.3">3</text>
<text transform="translate(1963.4 258.65) scale(0.967 1)" font-size="23.6" stroke-width="0.3">2</text>
<text transform="translate(1963.4 317.75) scale(0.967 1)" font-size="23.6" stroke-width="0.3">1</text>
<path d="M1954.4 72.2 h-3.5 M1954.4 131.3 h-3.5 M1954.4 190.4 h-3.5 M1954.4 249.5 h-3.5 M1954.4 308.6 h-3.5" stroke="#1e1e1e" stroke-width="1.2" fill="none"/>
<rect x="1913.8" y="44.5" width="40.6" height="278.5" fill="none" stroke="#1e1e1e" stroke-width="1.3"/>
<text transform="translate(1955.5 32.8) scale(0.93 1)" font-size="22.5" stroke-width="0.3"><tspan font-weight="normal" font-size="27" stroke="#fff" stroke-width="0.35" dx="0.5" dy="3.8">×</tspan><tspan dx="3.3" dy="-3.8">10</tspan><tspan dy="-10.4" dx="1.5" font-size="17">-3</tspan></text>
</g>
<g>
<g shape-rendering="crispEdges">
<rect x="142" y="442" width="81" height="28" fill="#352a87"/>
<rect x="223" y="442" width="26" height="28" fill="#06a0cd"/>
<rect x="249" y="442" width="54" height="28" fill="#06a7c6"/>
<rect x="303" y="442" width="80" height="28" fill="#07a9c2"/>
<rect x="383" y="442" width="27" height="28" fill="#f9fb0e"/>
<rect x="142" y="470" width="81" height="28" fill="#352a87"/>
<rect x="223" y="470" width="26" height="28" fill="#0998d1"/>
<rect x="249" y="470" width="81" height="28" fill="#06a7c6"/>
<rect x="330" y="470" width="53" height="28" fill="#07a9c2"/>
<rect x="383" y="470" width="27" height="28" fill="#f1b94a"/>
<rect x="142" y="498" width="81" height="28" fill="#352a87"/>
<rect x="223" y="498" width="26" height="28" fill="#127dd8"/>
<rect x="249" y="498" width="27" height="28" fill="#06a4ca"/>
<rect x="276" y="498" width="107" height="28" fill="#06a7c6"/>
<rect x="383" y="498" width="27" height="28" fill="#c8bc5d"/>
<rect x="142" y="526" width="107" height="28" fill="#352a87"/>
<rect x="249" y="526" width="27" height="28" fill="#1485d4"/>
<rect x="276" y="526" width="27" height="28" fill="#06a0cd"/>
<rect x="303" y="526" width="80" height="28" fill="#06a7c6"/>
<rect x="383" y="526" width="27" height="28" fill="#aebe67"/>
<rect x="142" y="554" width="107" height="28" fill="#352a87"/>
<rect x="249" y="554" width="27" height="28" fill="#0268e1"/>
<rect x="276" y="554" width="27" height="28" fill="#1389d3"/>
<rect x="303" y="554" width="27" height="28" fill="#06a0cd"/>
<rect x="330" y="554" width="27" height="28" fill="#06a4ca"/>
<rect x="357" y="554" width="26" height="28" fill="#06a7c6"/>
<rect x="383" y="554" width="27" height="28" fill="#9cbf6f"/>
<rect x="142" y="582" width="134" height="28" fill="#352a87"/>
<rect x="276" y="582" width="27" height="28" fill="#0363e1"/>
<rect x="303" y="582" width="27" height="28" fill="#1481d6"/>
<rect x="330" y="582" width="27" height="28" fill="#079ccf"/>
<rect x="357" y="582" width="26" height="28" fill="#06a4ca"/>
<rect x="383" y="582" width="27" height="28" fill="#71bf80"/>
<rect x="142" y="610" width="134" height="28" fill="#352a87"/>
<rect x="276" y="610" width="27" height="28" fill="#353dad"/>
<rect x="303" y="610" width="27" height="28" fill="#0363e1"/>
<rect x="330" y="610" width="27" height="28" fill="#127dd8"/>
<rect x="357" y="610" width="26" height="28" fill="#1485d4"/>
<rect x="383" y="610" width="27" height="28" fill="#4dbc92"/>
<rect x="142" y="638" width="188" height="28" fill="#352a87"/>
<rect x="330" y="638" width="27" height="28" fill="#0f5cdd"/>
<rect x="357" y="638" width="26" height="28" fill="#0363e1"/>
<rect x="383" y="638" width="27" height="28" fill="#15b1b4"/>
<rect x="142" y="666" width="268" height="28" fill="#352a87"/>
<rect x="142" y="694" width="268" height="28" fill="#352a87"/>
</g>
<path d="M182.38 721.7 v-4.2 M182.38 442 v4.2 M289.55 721.7 v-4.2 M289.55 442 v4.2 M396.71 721.7 v-4.2 M396.71 442 v4.2 M142.2 455.99 h4.2 M410.1 455.99 h-4.2 M142.2 567.87 h4.2 M410.1 567.87 h-4.2 M142.2 679.75 h4.2 M410.1 679.75 h-4.2" stroke="#161616" stroke-width="2" fill="none"/>
<rect x="142.2" y="442" width="267.9" height="279.7" fill="none" stroke="#161616" stroke-width="2.2"/>
<text transform="translate(182.38 757.1) scale(0.97 1)" font-size="26.4" stroke-width="0.3" text-anchor="middle">0.2</text>
<text transform="translate(289.55 757.1) scale(0.97 1)" font-size="26.4" stroke-width="0.3" text-anchor="middle">0.6</text>
<text transform="translate(396.71 757.1) scale(0.97 1)" font-size="26.4" stroke-width="0.3" text-anchor="middle">1</text>
<text transform="translate(132.5 466.29) scale(0.97 1)" font-size="26.4" stroke-width="0.3" text-anchor="end">1</text>
<text transform="translate(132.5 578.16) scale(0.97 1)" font-size="26.4" stroke-width="0.3" text-anchor="end">0.07</text>
<text transform="translate(132.5 690.05) scale(0.97 1)" font-size="26.4" stroke-width="0.3" text-anchor="end">0.004</text>
<text transform="translate(276.5 436.3) scale(0.97 1)" font-size="26.3" stroke-width="0.5" text-anchor="middle" class="k">asyn conc. (mM)</text>
<text transform="translate(71.2 410.6) scale(0.96 1)" font-size="34.6" stroke-width="0.5" class="k">E</text>
<g shape-rendering="crispEdges">
<rect x="433.6" y="717" width="40.6" height="4" fill="#352a87"/>
<rect x="433.6" y="712" width="40.6" height="5" fill="#363093"/>
<rect x="433.6" y="708" width="40.6" height="4" fill="#3637a0"/>
<rect x="433.6" y="704" width="40.6" height="4" fill="#353dad"/>
<rect x="433.6" y="699" width="40.6" height="5" fill="#3243ba"/>
<rect x="433.6" y="695" width="40.6" height="4" fill="#2c4ac7"/>
<rect x="433.6" y="691" width="40.6" height="4" fill="#2053d4"/>
<rect x="433.6" y="686" width="40.6" height="5" fill="#0f5cdd"/>
<rect x="433.6" y="682" width="40.6" height="4" fill="#0363e1"/>
<rect x="433.6" y="677" width="40.6" height="5" fill="#0268e1"/>
<rect x="433.6" y="673" width="40.6" height="4" fill="#046de0"/>
<rect x="433.6" y="669" width="40.6" height="4" fill="#0871de"/>
<rect x="433.6" y="664" width="40.6" height="5" fill="#0d75dc"/>
<rect x="433.6" y="660" width="40.6" height="4" fill="#1079da"/>
<rect x="433.6" y="656" width="40.6" height="4" fill="#127dd8"/>
<rect x="433.6" y="651" width="40.6" height="5" fill="#1481d6"/>
<rect x="433.6" y="647" width="40.6" height="4" fill="#1485d4"/>
<rect x="433.6" y="643" width="40.6" height="4" fill="#1389d3"/>
<rect x="433.6" y="638" width="40.6" height="5" fill="#108ed2"/>
<rect x="433.6" y="634" width="40.6" height="4" fill="#0c93d2"/>
<rect x="433.6" y="630" width="40.6" height="4" fill="#0998d1"/>
<rect x="433.6" y="625" width="40.6" height="5" fill="#079ccf"/>
<rect x="433.6" y="621" width="40.6" height="4" fill="#06a0cd"/>
<rect x="433.6" y="616" width="40.6" height="5" fill="#06a4ca"/>
<rect x="433.6" y="612" width="40.6" height="4" fill="#06a7c6"/>
<rect x="433.6" y="608" width="40.6" height="4" fill="#07a9c2"/>
<rect x="433.6" y="603" width="40.6" height="5" fill="#0aacbe"/>
<rect x="433.6" y="599" width="40.6" height="4" fill="#0faeb9"/>
<rect x="433.6" y="595" width="40.6" height="4" fill="#15b1b4"/>
<rect x="433.6" y="590" width="40.6" height="5" fill="#1db3af"/>
<rect x="433.6" y="586" width="40.6" height="4" fill="#25b5a9"/>
<rect x="433.6" y="582" width="40.6" height="4" fill="#2eb7a4"/>
<rect x="433.6" y="577" width="40.6" height="5" fill="#38b99e"/>
<rect x="433.6" y="573" width="40.6" height="4" fill="#42bb98"/>
<rect x="433.6" y="568" width="40.6" height="5" fill="#4dbc92"/>
<rect x="433.6" y="564" width="40.6" height="4" fill="#59bd8c"/>
<rect x="433.6" y="560" width="40.6" height="4" fill="#65be86"/>
<rect x="433.6" y="555" width="40.6" height="5" fill="#71bf80"/>
<rect x="433.6" y="551" width="40.6" height="4" fill="#7cbf7b"/>
<rect x="433.6" y="547" width="40.6" height="4" fill="#87bf77"/>
<rect x="433.6" y="542" width="40.6" height="5" fill="#92bf73"/>
<rect x="433.6" y="538" width="40.6" height="4" fill="#9cbf6f"/>
<rect x="433.6" y="534" width="40.6" height="4" fill="#a5be6b"/>
<rect x="433.6" y="529" width="40.6" height="5" fill="#aebe67"/>
<rect x="433.6" y="525" width="40.6" height="4" fill="#b7bd64"/>
<rect x="433.6" y="520" width="40.6" height="5" fill="#c0bc60"/>
<rect x="433.6" y="516" width="40.6" height="4" fill="#c8bc5d"/>
<rect x="433.6" y="512" width="40.6" height="4" fill="#d1bb59"/>
<rect x="433.6" y="507" width="40.6" height="5" fill="#d9ba56"/>
<rect x="433.6" y="503" width="40.6" height="4" fill="#e1b952"/>
<rect x="433.6" y="499" width="40.6" height="4" fill="#e9b94e"/>
<rect x="433.6" y="494" width="40.6" height="5" fill="#f1b94a"/>
<rect x="433.6" y="490" width="40.6" height="4" fill="#f8bb44"/>
<rect x="433.6" y="486" width="40.6" height="4" fill="#fdbe3d"/>
<rect x="433.6" y="481" width="40.6" height="5" fill="#ffc337"/>
<rect x="433.6" y="477" width="40.6" height="4" fill="#fec832"/>
<rect x="433.6" y="473" width="40.6" height="4" fill="#fcce2e"/>
<rect x="433.6" y="468" width="40.6" height="5" fill="#fad32a"/>
<rect x="433.6" y="464" width="40.6" height="4" fill="#f7d826"/>
<rect x="433.6" y="459" width="40.6" height="5" fill="#f5de21"/>
<rect x="433.6" y="455" width="40.6" height="4" fill="#f5e41d"/>
<rect x="433.6" y="451" width="40.6" height="4" fill="#f5eb18"/>
<rect x="433.6" y="446" width="40.6" height="5" fill="#f6f313"/>
<rect x="433.6" y="442" width="40.6" height="4" fill="#f9fb0e"/>
</g>
<text transform="translate(483.2 450.95) scale(0.967 1)" font-size="23.6" stroke-width="0.3">0.1</text>
<text transform="translate(483.2 544.35) scale(0.967 1)" font-size="23.6" stroke-width="0.3">0.099</text>
<text transform="translate(483.2 637.45) scale(0.967 1)" font-size="23.6" stroke-width="0.3">0.098</text>
<text transform="translate(483.2 730.65) scale(0.967 1)" font-size="23.6" stroke-width="0.3">0.097</text>
<path d="M474.2 441.8 h-3.5 M474.2 535.2 h-3.5 M474.2 628.3 h-3.5 M474.2 721.5 h-3.5" stroke="#1e1e1e" stroke-width="1.2" fill="none"/>
<rect x="433.6" y="442" width="40.6" height="279.1" fill="none" stroke="#1e1e1e" stroke-width="1.3"/>
</g>
<g>
<g shape-rendering="crispEdges">
<rect x="636" y="442" width="80" height="28" fill="#352a87"/>
<rect x="716" y="442" width="27" height="28" fill="#c8bc5d"/>
<rect x="743" y="442" width="26" height="28" fill="#b7bd64"/>
<rect x="769" y="442" width="27" height="28" fill="#a5be6b"/>
<rect x="796" y="442" width="27" height="28" fill="#92bf73"/>
<rect x="823" y="442" width="27" height="28" fill="#87bf77"/>
<rect x="850" y="442" width="27" height="28" fill="#7cbf7b"/>
<rect x="877" y="442" width="26" height="28" fill="#352a87"/>
<rect x="636" y="470" width="80" height="28" fill="#352a87"/>
<rect x="716" y="470" width="27" height="28" fill="#e1b952"/>
<rect x="743" y="470" width="26" height="28" fill="#c0bc60"/>
<rect x="769" y="470" width="27" height="28" fill="#a5be6b"/>
<rect x="796" y="470" width="27" height="28" fill="#9cbf6f"/>
<rect x="823" y="470" width="27" height="28" fill="#87bf77"/>
<rect x="850" y="470" width="27" height="28" fill="#7cbf7b"/>
<rect x="877" y="470" width="26" height="28" fill="#0f5cdd"/>
<rect x="636" y="498" width="80" height="28" fill="#352a87"/>
<rect x="716" y="498" width="27" height="28" fill="#fdbe3d"/>
<rect x="743" y="498" width="26" height="28" fill="#c8bc5d"/>
<rect x="769" y="498" width="27" height="28" fill="#aebe67"/>
<rect x="796" y="498" width="27" height="28" fill="#9cbf6f"/>
<rect x="823" y="498" width="54" height="28" fill="#92bf73"/>
<rect x="877" y="498" width="26" height="28" fill="#0d75dc"/>
<rect x="636" y="526" width="107" height="28" fill="#352a87"/>
<rect x="743" y="526" width="26" height="28" fill="#f1b94a"/>
<rect x="769" y="526" width="27" height="28" fill="#c0bc60"/>
<rect x="796" y="526" width="27" height="28" fill="#a5be6b"/>
<rect x="823" y="526" width="27" height="28" fill="#9cbf6f"/>
<rect x="850" y="526" width="27" height="28" fill="#92bf73"/>
<rect x="877" y="526" width="26" height="28" fill="#1481d6"/>
<rect x="636" y="554" width="107" height="28" fill="#352a87"/>
<rect x="743" y="554" width="26" height="28" fill="#f5de21"/>
<rect x="769" y="554" width="27" height="28" fill="#e1b952"/>
<rect x="796" y="554" width="27" height="28" fill="#b7bd64"/>
<rect x="823" y="554" width="27" height="28" fill="#a5be6b"/>
<rect x="850" y="554" width="27" height="28" fill="#9cbf6f"/>
<rect x="877" y="554" width="26" height="28" fill="#0c93d2"/>
<rect x="636" y="582" width="133" height="28" fill="#352a87"/>
<rect x="769" y="582" width="27" height="28" fill="#fad32a"/>
<rect x="796" y="582" width="27" height="28" fill="#e1b952"/>
<rect x="823" y="582" width="27" height="28" fill="#b7bd64"/>
<rect x="850" y="582" width="27" height="28" fill="#a5be6b"/>
<rect x="877" y="582" width="26" height="28" fill="#079ccf"/>
<rect x="636" y="610" width="133" height="28" fill="#352a87"/>
<rect x="769" y="610" width="27" height="28" fill="#f9fb0e"/>
<rect x="796" y="610" width="27" height="28" fill="#fcce2e"/>
<rect x="823" y="610" width="27" height="28" fill="#e9b94e"/>
<rect x="850" y="610" width="27" height="28" fill="#c8bc5d"/>
<rect x="877" y="610" width="26" height="28" fill="#06a4ca"/>
<rect x="636" y="638" width="187" height="28" fill="#352a87"/>
<rect x="823" y="638" width="27" height="28" fill="#fec832"/>
<rect x="850" y="638" width="27" height="28" fill="#f1b94a"/>
<rect x="877" y="638" width="26" height="28" fill="#1db3af"/>
<rect x="636" y="666" width="267" height="28" fill="#352a87"/>
<rect x="636" y="694" width="267" height="28" fill="#352a87"/>
</g>
<path d="M675.68 721.7 v-4.2 M675.68 442 v4.2 M782.85 721.7 v-4.2 M782.85 442 v4.2 M890 721.7 v-4.2 M890 442 v4.2 M635.5 455.99 h4.2 M903.4 455.99 h-4.2 M635.5 567.87 h4.2 M903.4 567.87 h-4.2 M635.5 679.75 h4.2 M903.4 679.75 h-4.2" stroke="#161616" stroke-width="2" fill="none"/>
<rect x="635.5" y="442" width="267.9" height="279.7" fill="none" stroke="#161616" stroke-width="2.2"/>
<text transform="translate(675.68 757.1) scale(0.97 1)" font-size="26.4" stroke-width="0.3" text-anchor="middle">0.2</text>
<text transform="translate(782.85 757.1) scale(0.97 1)" font-size="26.4" stroke-width="0.3" text-anchor="middle">0.6</text>
<text transform="translate(890 757.1) scale(0.97 1)" font-size="26.4" stroke-width="0.3" text-anchor="middle">1</text>
<text transform="translate(625.8 466.29) scale(0.97 1)" font-size="26.4" stroke-width="0.3" text-anchor="end">1</text>
<text transform="translate(625.8 578.16) scale(0.97 1)" font-size="26.4" stroke-width="0.3" text-anchor="end">0.07</text>
<text transform="translate(625.8 690.05) scale(0.97 1)" font-size="26.4" stroke-width="0.3" text-anchor="end">0.004</text>
<text transform="translate(652 424.5) scale(0.97 1)" font-size="26.3" stroke-width="0.5" class="k">asyn<tspan dy="13" dx="1" font-size="19.6">mis</tspan><tspan dy="-13" dx="0.4"> conc. (mM)</tspan></text>
<text transform="translate(581.6 408.3) scale(0.96 1)" font-size="34.6" stroke-width="0.5" class="k">F</text>
<g shape-rendering="crispEdges">
<rect x="920.7" y="717" width="38.6" height="4" fill="#352a87"/>
<rect x="920.7" y="712" width="38.6" height="5" fill="#363093"/>
<rect x="920.7" y="708" width="38.6" height="4" fill="#3637a0"/>
<rect x="920.7" y="704" width="38.6" height="4" fill="#353dad"/>
<rect x="920.7" y="699" width="38.6" height="5" fill="#3243ba"/>
<rect x="920.7" y="695" width="38.6" height="4" fill="#2c4ac7"/>
<rect x="920.7" y="691" width="38.6" height="4" fill="#2053d4"/>
<rect x="920.7" y="686" width="38.6" height="5" fill="#0f5cdd"/>
<rect x="920.7" y="682" width="38.6" height="4" fill="#0363e1"/>
<rect x="920.7" y="677" width="38.6" height="5" fill="#0268e1"/>
<rect x="920.7" y="673" width="38.6" height="4" fill="#046de0"/>
<rect x="920.7" y="669" width="38.6" height="4" fill="#0871de"/>
<rect x="920.7" y="664" width="38.6" height="5" fill="#0d75dc"/>
<rect x="920.7" y="660" width="38.6" height="4" fill="#1079da"/>
<rect x="920.7" y="656" width="38.6" height="4" fill="#127dd8"/>
<rect x="920.7" y="651" width="38.6" height="5" fill="#1481d6"/>
<rect x="920.7" y="647" width="38.6" height="4" fill="#1485d4"/>
<rect x="920.7" y="643" width="38.6" height="4" fill="#1389d3"/>
<rect x="920.7" y="638" width="38.6" height="5" fill="#108ed2"/>
<rect x="920.7" y="634" width="38.6" height="4" fill="#0c93d2"/>
<rect x="920.7" y="630" width="38.6" height="4" fill="#0998d1"/>
<rect x="920.7" y="625" width="38.6" height="5" fill="#079ccf"/>
<rect x="920.7" y="621" width="38.6" height="4" fill="#06a0cd"/>
<rect x="920.7" y="616" width="38.6" height="5" fill="#06a4ca"/>
<rect x="920.7" y="612" width="38.6" height="4" fill="#06a7c6"/>
<rect x="920.7" y="608" width="38.6" height="4" fill="#07a9c2"/>
<rect x="920.7" y="603" width="38.6" height="5" fill="#0aacbe"/>
<rect x="920.7" y="599" width="38.6" height="4" fill="#0faeb9"/>
<rect x="920.7" y="595" width="38.6" height="4" fill="#15b1b4"/>
<rect x="920.7" y="590" width="38.6" height="5" fill="#1db3af"/>
<rect x="920.7" y="586" width="38.6" height="4" fill="#25b5a9"/>
<rect x="920.7" y="582" width="38.6" height="4" fill="#2eb7a4"/>
<rect x="920.7" y="577" width="38.6" height="5" fill="#38b99e"/>
<rect x="920.7" y="573" width="38.6" height="4" fill="#42bb98"/>
<rect x="920.7" y="568" width="38.6" height="5" fill="#4dbc92"/>
<rect x="920.7" y="564" width="38.6" height="4" fill="#59bd8c"/>
<rect x="920.7" y="560" width="38.6" height="4" fill="#65be86"/>
<rect x="920.7" y="555" width="38.6" height="5" fill="#71bf80"/>
<rect x="920.7" y="551" width="38.6" height="4" fill="#7cbf7b"/>
<rect x="920.7" y="547" width="38.6" height="4" fill="#87bf77"/>
<rect x="920.7" y="542" width="38.6" height="5" fill="#92bf73"/>
<rect x="920.7" y="538" width="38.6" height="4" fill="#9cbf6f"/>
<rect x="920.7" y="534" width="38.6" height="4" fill="#a5be6b"/>
<rect x="920.7" y="529" width="38.6" height="5" fill="#aebe67"/>
<rect x="920.7" y="525" width="38.6" height="4" fill="#b7bd64"/>
<rect x="920.7" y="520" width="38.6" height="5" fill="#c0bc60"/>
<rect x="920.7" y="516" width="38.6" height="4" fill="#c8bc5d"/>
<rect x="920.7" y="512" width="38.6" height="4" fill="#d1bb59"/>
<rect x="920.7" y="507" width="38.6" height="5" fill="#d9ba56"/>
<rect x="920.7" y="503" width="38.6" height="4" fill="#e1b952"/>
<rect x="920.7" y="499" width="38.6" height="4" fill="#e9b94e"/>
<rect x="920.7" y="494" width="38.6" height="5" fill="#f1b94a"/>
<rect x="920.7" y="490" width="38.6" height="4" fill="#f8bb44"/>
<rect x="920.7" y="486" width="38.6" height="4" fill="#fdbe3d"/>
<rect x="920.7" y="481" width="38.6" height="5" fill="#ffc337"/>
<rect x="920.7" y="477" width="38.6" height="4" fill="#fec832"/>
<rect x="920.7" y="473" width="38.6" height="4" fill="#fcce2e"/>
<rect x="920.7" y="468" width="38.6" height="5" fill="#fad32a"/>
<rect x="920.7" y="464" width="38.6" height="4" fill="#f7d826"/>
<rect x="920.7" y="459" width="38.6" height="5" fill="#f5de21"/>
<rect x="920.7" y="455" width="38.6" height="4" fill="#f5e41d"/>
<rect x="920.7" y="451" width="38.6" height="4" fill="#f5eb18"/>
<rect x="920.7" y="446" width="38.6" height="5" fill="#f6f313"/>
<rect x="920.7" y="442" width="38.6" height="4" fill="#f9fb0e"/>
</g>
<text transform="translate(968.3 468.05) scale(0.967 1)" font-size="23.6" stroke-width="0.3">0.2</text>
<text transform="translate(968.3 533.65) scale(0.967 1)" font-size="23.6" stroke-width="0.3">0.15</text>
<text transform="translate(968.3 599.25) scale(0.967 1)" font-size="23.6" stroke-width="0.3">0.1</text>
<text transform="translate(968.3 664.85) scale(0.967 1)" font-size="23.6" stroke-width="0.3">0.05</text>
<text transform="translate(968.3 730.65) scale(0.967 1)" font-size="23.6" stroke-width="0.3">0</text>
<path d="M959.3 458.9 h-3.5 M959.3 524.5 h-3.5 M959.3 590.1 h-3.5 M959.3 655.7 h-3.5 M959.3 721.5 h-3.5" stroke="#1e1e1e" stroke-width="1.2" fill="none"/>
<rect x="920.7" y="442" width="38.6" height="279.1" fill="none" stroke="#1e1e1e" stroke-width="1.3"/>
</g>
<g>
<g shape-rendering="crispEdges">
<rect x="1129" y="442" width="80" height="28" fill="#352a87"/>
<rect x="1209" y="442" width="27" height="28" fill="#e9b94e"/>
<rect x="1236" y="442" width="27" height="28" fill="#d9ba56"/>
<rect x="1263" y="442" width="27" height="28" fill="#c8bc5d"/>
<rect x="1290" y="442" width="27" height="28" fill="#b7bd64"/>
<rect x="1317" y="442" width="26" height="28" fill="#aebe67"/>
<rect x="1343" y="442" width="27" height="28" fill="#a5be6b"/>
<rect x="1370" y="442" width="27" height="28" fill="#352a87"/>
<rect x="1129" y="470" width="80" height="28" fill="#352a87"/>
<rect x="1209" y="470" width="27" height="28" fill="#fdbe3d"/>
<rect x="1236" y="470" width="27" height="28" fill="#e1b952"/>
<rect x="1263" y="470" width="27" height="28" fill="#d1bb59"/>
<rect x="1290" y="470" width="27" height="28" fill="#c0bc60"/>
<rect x="1317" y="470" width="26" height="28" fill="#aebe67"/>
<rect x="1343" y="470" width="27" height="28" fill="#a5be6b"/>
<rect x="1370" y="470" width="27" height="28" fill="#3637a0"/>
<rect x="1129" y="498" width="80" height="28" fill="#352a87"/>
<rect x="1209" y="498" width="27" height="28" fill="#fec832"/>
<rect x="1236" y="498" width="27" height="28" fill="#e9b94e"/>
<rect x="1263" y="498" width="27" height="28" fill="#d9ba56"/>
<rect x="1290" y="498" width="27" height="28" fill="#c8bc5d"/>
<rect x="1317" y="498" width="26" height="28" fill="#b7bd64"/>
<rect x="1343" y="498" width="27" height="28" fill="#a5be6b"/>
<rect x="1370" y="498" width="27" height="28" fill="#2c4ac7"/>
<rect x="1129" y="526" width="107" height="28" fill="#352a87"/>
<rect x="1236" y="526" width="27" height="28" fill="#ffc337"/>
<rect x="1263" y="526" width="27" height="28" fill="#e1b952"/>
<rect x="1290" y="526" width="27" height="28" fill="#c8bc5d"/>
<rect x="1317" y="526" width="26" height="28" fill="#c0bc60"/>
<rect x="1343" y="526" width="27" height="28" fill="#b7bd64"/>
<rect x="1370" y="526" width="27" height="28" fill="#0363e1"/>
<rect x="1129" y="554" width="107" height="28" fill="#352a87"/>
<rect x="1236" y="554" width="27" height="28" fill="#f5e41d"/>
<rect x="1263" y="554" width="27" height="28" fill="#fdbe3d"/>
<rect x="1290" y="554" width="27" height="28" fill="#d9ba56"/>
<rect x="1317" y="554" width="26" height="28" fill="#c8bc5d"/>
<rect x="1343" y="554" width="27" height="28" fill="#b7bd64"/>
<rect x="1370" y="554" width="27" height="28" fill="#046de0"/>
<rect x="1129" y="582" width="134" height="28" fill="#352a87"/>
<rect x="1263" y="582" width="27" height="28" fill="#f5de21"/>
<rect x="1290" y="582" width="27" height="28" fill="#fdbe3d"/>
<rect x="1317" y="582" width="26" height="28" fill="#d9ba56"/>
<rect x="1343" y="582" width="27" height="28" fill="#c8bc5d"/>
<rect x="1370" y="582" width="27" height="28" fill="#127dd8"/>
<rect x="1129" y="610" width="134" height="28" fill="#352a87"/>
<rect x="1263" y="610" width="27" height="28" fill="#f9fb0e"/>
<rect x="1290" y="610" width="27" height="28" fill="#fcce2e"/>
<rect x="1317" y="610" width="26" height="28" fill="#f1b94a"/>
<rect x="1343" y="610" width="27" height="28" fill="#d9ba56"/>
<rect x="1370" y="610" width="27" height="28" fill="#1485d4"/>
<rect x="1129" y="638" width="188" height="28" fill="#352a87"/>
<rect x="1317" y="638" width="26" height="28" fill="#fec832"/>
<rect x="1343" y="638" width="27" height="28" fill="#e9b94e"/>
<rect x="1370" y="638" width="27" height="28" fill="#0c93d2"/>
<rect x="1129" y="666" width="268" height="28" fill="#352a87"/>
<rect x="1129" y="694" width="268" height="28" fill="#352a87"/>
</g>
<path d="M1169.18 721.7 v-4.2 M1169.18 442 v4.2 M1276.35 721.7 v-4.2 M1276.35 442 v4.2 M1383.51 721.7 v-4.2 M1383.51 442 v4.2 M1129 455.99 h4.2 M1396.9 455.99 h-4.2 M1129 567.87 h4.2 M1396.9 567.87 h-4.2 M1129 679.75 h4.2 M1396.9 679.75 h-4.2" stroke="#161616" stroke-width="2" fill="none"/>
<rect x="1129" y="442" width="267.9" height="279.7" fill="none" stroke="#161616" stroke-width="2.2"/>
<text transform="translate(1169.18 757.1) scale(0.97 1)" font-size="26.4" stroke-width="0.3" text-anchor="middle">0.2</text>
<text transform="translate(1276.35 757.1) scale(0.97 1)" font-size="26.4" stroke-width="0.3" text-anchor="middle">0.6</text>
<text transform="translate(1383.51 757.1) scale(0.97 1)" font-size="26.4" stroke-width="0.3" text-anchor="middle">1</text>
<text transform="translate(1119.3 466.29) scale(0.97 1)" font-size="26.4" stroke-width="0.3" text-anchor="end">1</text>
<text transform="translate(1119.3 578.16) scale(0.97 1)" font-size="26.4" stroke-width="0.3" text-anchor="end">0.07</text>
<text transform="translate(1119.3 690.05) scale(0.97 1)" font-size="26.4" stroke-width="0.3" text-anchor="end">0.004</text>
<text transform="translate(1145 424.5) scale(0.97 1)" font-size="26.3" stroke-width="0.5" class="k">asyn<tspan dy="13" dx="1" font-size="19.6">agg</tspan><tspan dy="-13" dx="0.4"> conc. (mM)</tspan></text>
<text transform="translate(1071.6 405.9) scale(0.96 1)" font-size="34.6" stroke-width="0.5" class="k">G</text>
<g shape-rendering="crispEdges">
<rect x="1414" y="717" width="39.3" height="4" fill="#352a87"/>
<rect x="1414" y="712" width="39.3" height="5" fill="#363093"/>
<rect x="1414" y="708" width="39.3" height="4" fill="#3637a0"/>
<rect x="1414" y="704" width="39.3" height="4" fill="#353dad"/>
<rect x="1414" y="699" width="39.3" height="5" fill="#3243ba"/>
<rect x="1414" y="695" width="39.3" height="4" fill="#2c4ac7"/>
<rect x="1414" y="691" width="39.3" height="4" fill="#2053d4"/>
<rect x="1414" y="686" width="39.3" height="5" fill="#0f5cdd"/>
<rect x="1414" y="682" width="39.3" height="4" fill="#0363e1"/>
<rect x="1414" y="677" width="39.3" height="5" fill="#0268e1"/>
<rect x="1414" y="673" width="39.3" height="4" fill="#046de0"/>
<rect x="1414" y="669" width="39.3" height="4" fill="#0871de"/>
<rect x="1414" y="664" width="39.3" height="5" fill="#0d75dc"/>
<rect x="1414" y="660" width="39.3" height="4" fill="#1079da"/>
<rect x="1414" y="656" width="39.3" height="4" fill="#127dd8"/>
<rect x="1414" y="651" width="39.3" height="5" fill="#1481d6"/>
<rect x="1414" y="647" width="39.3" height="4" fill="#1485d4"/>
<rect x="1414" y="643" width="39.3" height="4" fill="#1389d3"/>
<rect x="1414" y="638" width="39.3" height="5" fill="#108ed2"/>
<rect x="1414" y="634" width="39.3" height="4" fill="#0c93d2"/>
<rect x="1414" y="630" width="39.3" height="4" fill="#0998d1"/>
<rect x="1414" y="625" width="39.3" height="5" fill="#079ccf"/>
<rect x="1414" y="621" width="39.3" height="4" fill="#06a0cd"/>
<rect x="1414" y="616" width="39.3" height="5" fill="#06a4ca"/>
<rect x="1414" y="612" width="39.3" height="4" fill="#06a7c6"/>
<rect x="1414" y="608" width="39.3" height="4" fill="#07a9c2"/>
<rect x="1414" y="603" width="39.3" height="5" fill="#0aacbe"/>
<rect x="1414" y="599" width="39.3" height="4" fill="#0faeb9"/>
<rect x="1414" y="595" width="39.3" height="4" fill="#15b1b4"/>
<rect x="1414" y="590" width="39.3" height="5" fill="#1db3af"/>
<rect x="1414" y="586" width="39.3" height="4" fill="#25b5a9"/>
<rect x="1414" y="582" width="39.3" height="4" fill="#2eb7a4"/>
<rect x="1414" y="577" width="39.3" height="5" fill="#38b99e"/>
<rect x="1414" y="573" width="39.3" height="4" fill="#42bb98"/>
<rect x="1414" y="568" width="39.3" height="5" fill="#4dbc92"/>
<rect x="1414" y="564" width="39.3" height="4" fill="#59bd8c"/>
<rect x="1414" y="560" width="39.3" height="4" fill="#65be86"/>
<rect x="1414" y="555" width="39.3" height="5" fill="#71bf80"/>
<rect x="1414" y="551" width="39.3" height="4" fill="#7cbf7b"/>
<rect x="1414" y="547" width="39.3" height="4" fill="#87bf77"/>
<rect x="1414" y="542" width="39.3" height="5" fill="#92bf73"/>
<rect x="1414" y="538" width="39.3" height="4" fill="#9cbf6f"/>
<rect x="1414" y="534" width="39.3" height="4" fill="#a5be6b"/>
<rect x="1414" y="529" width="39.3" height="5" fill="#aebe67"/>
<rect x="1414" y="525" width="39.3" height="4" fill="#b7bd64"/>
<rect x="1414" y="520" width="39.3" height="5" fill="#c0bc60"/>
<rect x="1414" y="516" width="39.3" height="4" fill="#c8bc5d"/>
<rect x="1414" y="512" width="39.3" height="4" fill="#d1bb59"/>
<rect x="1414" y="507" width="39.3" height="5" fill="#d9ba56"/>
<rect x="1414" y="503" width="39.3" height="4" fill="#e1b952"/>
<rect x="1414" y="499" width="39.3" height="4" fill="#e9b94e"/>
<rect x="1414" y="494" width="39.3" height="5" fill="#f1b94a"/>
<rect x="1414" y="490" width="39.3" height="4" fill="#f8bb44"/>
<rect x="1414" y="486" width="39.3" height="4" fill="#fdbe3d"/>
<rect x="1414" y="481" width="39.3" height="5" fill="#ffc337"/>
<rect x="1414" y="477" width="39.3" height="4" fill="#fec832"/>
<rect x="1414" y="473" width="39.3" height="4" fill="#fcce2e"/>
<rect x="1414" y="468" width="39.3" height="5" fill="#fad32a"/>
<rect x="1414" y="464" width="39.3" height="4" fill="#f7d826"/>
<rect x="1414" y="459" width="39.3" height="5" fill="#f5de21"/>
<rect x="1414" y="455" width="39.3" height="4" fill="#f5e41d"/>
<rect x="1414" y="451" width="39.3" height="4" fill="#f5eb18"/>
<rect x="1414" y="446" width="39.3" height="5" fill="#f6f313"/>
<rect x="1414" y="442" width="39.3" height="4" fill="#f9fb0e"/>
</g>
<text transform="translate(1462.3 486.35) scale(0.967 1)" font-size="23.6" stroke-width="0.3">0.03</text>
<text transform="translate(1462.3 567.75) scale(0.967 1)" font-size="23.6" stroke-width="0.3">0.02</text>
<text transform="translate(1462.3 649.15) scale(0.967 1)" font-size="23.6" stroke-width="0.3">0.01</text>
<text transform="translate(1462.3 730.65) scale(0.967 1)" font-size="23.6" stroke-width="0.3">0</text>
<path d="M1453.3 477.2 h-3.5 M1453.3 558.6 h-3.5 M1453.3 640 h-3.5 M1453.3 721.5 h-3.5" stroke="#1e1e1e" stroke-width="1.2" fill="none"/>
<rect x="1414" y="442" width="39.3" height="279.1" fill="none" stroke="#1e1e1e" stroke-width="1.3"/>
</g>
<g>
<g shape-rendering="crispEdges">
<rect x="1622" y="442" width="81" height="28" fill="#352a87"/>
<rect x="1703" y="442" width="27" height="28" fill="#b7bd64"/>
<rect x="1730" y="442" width="53" height="28" fill="#a5be6b"/>
<rect x="1783" y="442" width="54" height="28" fill="#92bf73"/>
<rect x="1837" y="442" width="27" height="28" fill="#87bf77"/>
<rect x="1864" y="442" width="26" height="28" fill="#352a87"/>
<rect x="1622" y="470" width="81" height="28" fill="#352a87"/>
<rect x="1703" y="470" width="27" height="28" fill="#d9ba56"/>
<rect x="1730" y="470" width="53" height="28" fill="#a5be6b"/>
<rect x="1783" y="470" width="27" height="28" fill="#9cbf6f"/>
<rect x="1810" y="470" width="54" height="28" fill="#92bf73"/>
<rect x="1864" y="470" width="26" height="28" fill="#046de0"/>
<rect x="1622" y="498" width="81" height="28" fill="#352a87"/>
<rect x="1703" y="498" width="27" height="28" fill="#f1b94a"/>
<rect x="1730" y="498" width="26" height="28" fill="#b7bd64"/>
<rect x="1756" y="498" width="54" height="28" fill="#a5be6b"/>
<rect x="1810" y="498" width="27" height="28" fill="#9cbf6f"/>
<rect x="1837" y="498" width="27" height="28" fill="#92bf73"/>
<rect x="1864" y="498" width="26" height="28" fill="#1389d3"/>
<rect x="1622" y="526" width="108" height="28" fill="#352a87"/>
<rect x="1730" y="526" width="26" height="28" fill="#e1b952"/>
<rect x="1756" y="526" width="27" height="28" fill="#b7bd64"/>
<rect x="1783" y="526" width="54" height="28" fill="#a5be6b"/>
<rect x="1837" y="526" width="27" height="28" fill="#9cbf6f"/>
<rect x="1864" y="526" width="26" height="28" fill="#06a4ca"/>
<rect x="1622" y="554" width="108" height="28" fill="#352a87"/>
<rect x="1730" y="554" width="26" height="28" fill="#fcce2e"/>
<rect x="1756" y="554" width="27" height="28" fill="#e1b952"/>
<rect x="1783" y="554" width="27" height="28" fill="#b7bd64"/>
<rect x="1810" y="554" width="54" height="28" fill="#a5be6b"/>
<rect x="1864" y="554" width="26" height="28" fill="#0aacbe"/>
<rect x="1622" y="582" width="134" height="28" fill="#352a87"/>
<rect x="1756" y="582" width="27" height="28" fill="#fcce2e"/>
<rect x="1783" y="582" width="27" height="28" fill="#e9b94e"/>
<rect x="1810" y="582" width="27" height="28" fill="#c8bc5d"/>
<rect x="1837" y="582" width="27" height="28" fill="#b7bd64"/>
<rect x="1864" y="582" width="26" height="28" fill="#0faeb9"/>
<rect x="1622" y="610" width="134" height="28" fill="#352a87"/>
<rect x="1756" y="610" width="27" height="28" fill="#f9fb0e"/>
<rect x="1783" y="610" width="27" height="28" fill="#f7d826"/>
<rect x="1810" y="610" width="27" height="28" fill="#fdbe3d"/>
<rect x="1837" y="610" width="27" height="28" fill="#e1b952"/>
<rect x="1864" y="610" width="26" height="28" fill="#38b99e"/>
<rect x="1622" y="638" width="188" height="28" fill="#352a87"/>
<rect x="1810" y="638" width="27" height="28" fill="#f5e41d"/>
<rect x="1837" y="638" width="27" height="28" fill="#fad32a"/>
<rect x="1864" y="638" width="26" height="28" fill="#92bf73"/>
<rect x="1622" y="666" width="268" height="28" fill="#352a87"/>
<rect x="1622" y="694" width="268" height="28" fill="#352a87"/>
</g>
<path d="M1662.59 721.7 v-4.2 M1662.59 442 v4.2 M1769.74 721.7 v-4.2 M1769.74 442 v4.2 M1876.9 721.7 v-4.2 M1876.9 442 v4.2 M1622.4 455.99 h4.2 M1890.3 455.99 h-4.2 M1622.4 567.87 h4.2 M1890.3 567.87 h-4.2 M1622.4 679.75 h4.2 M1890.3 679.75 h-4.2" stroke="#161616" stroke-width="2" fill="none"/>
<rect x="1622.4" y="442" width="267.9" height="279.7" fill="none" stroke="#161616" stroke-width="2.2"/>
<text transform="translate(1662.59 757.1) scale(0.97 1)" font-size="26.4" stroke-width="0.3" text-anchor="middle">0.2</text>
<text transform="translate(1769.74 757.1) scale(0.97 1)" font-size="26.4" stroke-width="0.3" text-anchor="middle">0.6</text>
<text transform="translate(1876.9 757.1) scale(0.97 1)" font-size="26.4" stroke-width="0.3" text-anchor="middle">1</text>
<text transform="translate(1612.7 466.29) scale(0.97 1)" font-size="26.4" stroke-width="0.3" text-anchor="end">1</text>
<text transform="translate(1612.7 578.16) scale(0.97 1)" font-size="26.4" stroke-width="0.3" text-anchor="end">0.07</text>
<text transform="translate(1612.7 690.05) scale(0.97 1)" font-size="26.4" stroke-width="0.3" text-anchor="end">0.004</text>
<text transform="translate(1756 436.3) scale(0.97 1)" font-size="26.3" stroke-width="0.5" text-anchor="middle" class="k">ROS conc. (mM)</text>
<text transform="translate(1564 402.8) scale(0.96 1)" font-size="34.6" stroke-width="0.5" class="k">H</text>
<g shape-rendering="crispEdges">
<rect x="1913.8" y="717" width="40.6" height="4" fill="#352a87"/>
<rect x="1913.8" y="712" width="40.6" height="5" fill="#363093"/>
<rect x="1913.8" y="708" width="40.6" height="4" fill="#3637a0"/>
<rect x="1913.8" y="704" width="40.6" height="4" fill="#353dad"/>
<rect x="1913.8" y="699" width="40.6" height="5" fill="#3243ba"/>
<rect x="1913.8" y="695" width="40.6" height="4" fill="#2c4ac7"/>
<rect x="1913.8" y="691" width="40.6" height="4" fill="#2053d4"/>
<rect x="1913.8" y="686" width="40.6" height="5" fill="#0f5cdd"/>
<rect x="1913.8" y="682" width="40.6" height="4" fill="#0363e1"/>
<rect x="1913.8" y="677" width="40.6" height="5" fill="#0268e1"/>
<rect x="1913.8" y="673" width="40.6" height="4" fill="#046de0"/>
<rect x="1913.8" y="669" width="40.6" height="4" fill="#0871de"/>
<rect x="1913.8" y="664" width="40.6" height="5" fill="#0d75dc"/>
<rect x="1913.8" y="660" width="40.6" height="4" fill="#1079da"/>
<rect x="1913.8" y="656" width="40.6" height="4" fill="#127dd8"/>
<rect x="1913.8" y="651" width="40.6" height="5" fill="#1481d6"/>
<rect x="1913.8" y="647" width="40.6" height="4" fill="#1485d4"/>
<rect x="1913.8" y="643" width="40.6" height="4" fill="#1389d3"/>
<rect x="1913.8" y="638" width="40.6" height="5" fill="#108ed2"/>
<rect x="1913.8" y="634" width="40.6" height="4" fill="#0c93d2"/>
<rect x="1913.8" y="630" width="40.6" height="4" fill="#0998d1"/>
<rect x="1913.8" y="625" width="40.6" height="5" fill="#079ccf"/>
<rect x="1913.8" y="621" width="40.6" height="4" fill="#06a0cd"/>
<rect x="1913.8" y="616" width="40.6" height="5" fill="#06a4ca"/>
<rect x="1913.8" y="612" width="40.6" height="4" fill="#06a7c6"/>
<rect x="1913.8" y="608" width="40.6" height="4" fill="#07a9c2"/>
<rect x="1913.8" y="603" width="40.6" height="5" fill="#0aacbe"/>
<rect x="1913.8" y="599" width="40.6" height="4" fill="#0faeb9"/>
<rect x="1913.8" y="595" width="40.6" height="4" fill="#15b1b4"/>
<rect x="1913.8" y="590" width="40.6" height="5" fill="#1db3af"/>
<rect x="1913.8" y="586" width="40.6" height="4" fill="#25b5a9"/>
<rect x="1913.8" y="582" width="40.6" height="4" fill="#2eb7a4"/>
<rect x="1913.8" y="577" width="40.6" height="5" fill="#38b99e"/>
<rect x="1913.8" y="573" width="40.6" height="4" fill="#42bb98"/>
<rect x="1913.8" y="568" width="40.6" height="5" fill="#4dbc92"/>
<rect x="1913.8" y="564" width="40.6" height="4" fill="#59bd8c"/>
<rect x="1913.8" y="560" width="40.6" height="4" fill="#65be86"/>
<rect x="1913.8" y="555" width="40.6" height="5" fill="#71bf80"/>
<rect x="1913.8" y="551" width="40.6" height="4" fill="#7cbf7b"/>
<rect x="1913.8" y="547" width="40.6" height="4" fill="#87bf77"/>
<rect x="1913.8" y="542" width="40.6" height="5" fill="#92bf73"/>
<rect x="1913.8" y="538" width="40.6" height="4" fill="#9cbf6f"/>
<rect x="1913.8" y="534" width="40.6" height="4" fill="#a5be6b"/>
<rect x="1913.8" y="529" width="40.6" height="5" fill="#aebe67"/>
<rect x="1913.8" y="525" width="40.6" height="4" fill="#b7bd64"/>
<rect x="1913.8" y="520" width="40.6" height="5" fill="#c0bc60"/>
<rect x="1913.8" y="516" width="40.6" height="4" fill="#c8bc5d"/>
<rect x="1913.8" y="512" width="40.6" height="4" fill="#d1bb59"/>
<rect x="1913.8" y="507" width="40.6" height="5" fill="#d9ba56"/>
<rect x="1913.8" y="503" width="40.6" height="4" fill="#e1b952"/>
<rect x="1913.8" y="499" width="40.6" height="4" fill="#e9b94e"/>
<rect x="1913.8" y="494" width="40.6" height="5" fill="#f1b94a"/>
<rect x="1913.8" y="490" width="40.6" height="4" fill="#f8bb44"/>
<rect x="1913.8" y="486" width="40.6" height="4" fill="#fdbe3d"/>
<rect x="1913.8" y="481" width="40.6" height="5" fill="#ffc337"/>
<rect x="1913.8" y="477" width="40.6" height="4" fill="#fec832"/>
<rect x="1913.8" y="473" width="40.6" height="4" fill="#fcce2e"/>
<rect x="1913.8" y="468" width="40.6" height="5" fill="#fad32a"/>
<rect x="1913.8" y="464" width="40.6" height="4" fill="#f7d826"/>
<rect x="1913.8" y="459" width="40.6" height="5" fill="#f5de21"/>
<rect x="1913.8" y="455" width="40.6" height="4" fill="#f5e41d"/>
<rect x="1913.8" y="451" width="40.6" height="4" fill="#f5eb18"/>
<rect x="1913.8" y="446" width="40.6" height="5" fill="#f6f313"/>
<rect x="1913.8" y="442" width="40.6" height="4" fill="#f9fb0e"/>
</g>
<text transform="translate(1963.4 460.95) scale(0.967 1)" font-size="23.6" stroke-width="0.3">0.2</text>
<text transform="translate(1963.4 528.35) scale(0.967 1)" font-size="23.6" stroke-width="0.3">0.15</text>
<text transform="translate(1963.4 595.75) scale(0.967 1)" font-size="23.6" stroke-width="0.3">0.1</text>
<text transform="translate(1963.4 663.15) scale(0.967 1)" font-size="23.6" stroke-width="0.3">0.05</text>
<text transform="translate(1963.4 730.65) scale(0.967 1)" font-size="23.6" stroke-width="0.3">0</text>
<path d="M1954.4 451.8 h-3.5 M1954.4 519.2 h-3.5 M1954.4 586.6 h-3.5 M1954.4 654 h-3.5 M1954.4 721.5 h-3.5" stroke="#1e1e1e" stroke-width="1.2" fill="none"/>
<rect x="1913.8" y="442" width="40.6" height="279.1" fill="none" stroke="#1e1e1e" stroke-width="1.3"/>
</g>
<text transform="translate(28.2 393) rotate(-90) scale(0.974 1)" font-size="35.0" stroke-width="0.35" text-anchor="middle">Glucose levels (in mM)</text>
<text transform="translate(1054.8 800.3) scale(0.974 1)" font-size="35.0" stroke-width="0.35" text-anchor="middle">Oxygen levels (in relative units)</text>
</svg></body></html>
